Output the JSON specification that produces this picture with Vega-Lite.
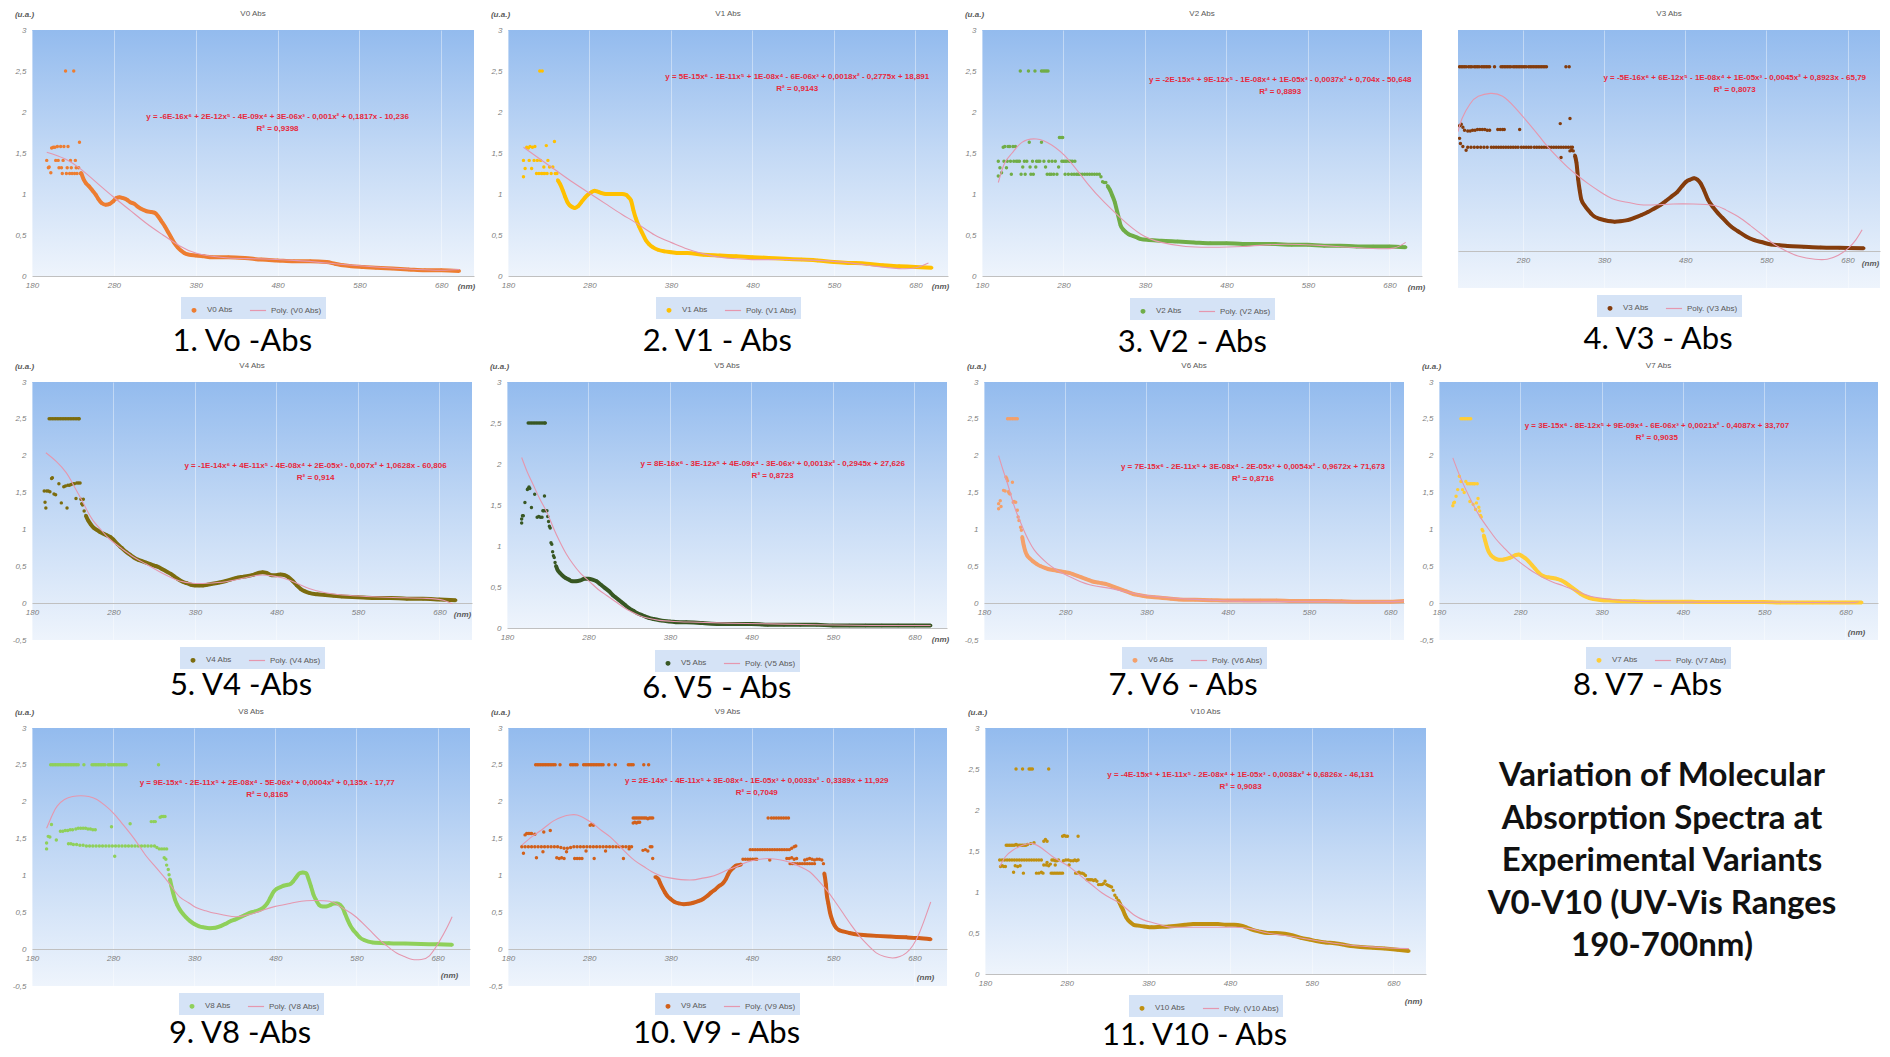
{
  "$schema": "https://vega.github.io/schema/vega-lite/v6.json",
  "background": "white",
  "padding": {"left": 10, "top": 10, "right": 0, "bottom": 0},
  "autosize": {"type": "pad"},
  "config": {
    "view": {"fill": {"gradient": "linear", "x1": 0, "y1": 0, "x2": 0, "y2": 1, "stops": [{"offset": 0, "color": "#93BBEE"}, {"offset": 0.5, "color": "#C3D9F5"}, {"offset": 1, "color": "#EEF4FC"}]}, "stroke": null},
    "font": "Liberation Sans",
    "title": {"fontSize": 8, "fontWeight": "normal", "color": "#595959", "font": "Liberation Sans", "offset": -8},
    "axis": {"labelFontSize": 8, "labelFontStyle": "italic", "labelColor": "#7F7F7F", "ticks": false, "titleFontSize": 8, "titleFontStyle": "italic", "titleFontWeight": "bold", "titleColor": "#595959", "labelFont": "Liberation Sans", "titleFont": "Liberation Sans", "labelOverlap": false},
    "axisX": {"grid": true, "gridColor": "#FFFFFF", "gridOpacity": 0.4, "domainColor": "#C0C0C0", "labelPadding": 5, "labelFlush": false, "titleAlign": "center", "titleBaseline": "middle", "tickCount": 12},
    "axisY": {"grid": false, "domain": false, "labelPadding": 6, "titleAngle": 0, "titleX": -8, "titleY": -16, "titleAlign": "center", "titleBaseline": "middle", "minExtent": 22, "maxExtent": 22, "labelOverlap": false, "labelSeparation": 0, "tickCount": 12},
    "legend": {"orient": "bottom", "direction": "horizontal", "offset": 7, "fillColor": "#D5E3F6", "padding": 4, "labelFontSize": 8, "labelColor": "#595959", "labelFont": "Liberation Sans", "columnPadding": 14, "symbolStrokeWidth": 1.2, "layout": {"bottom": {"anchor": "middle"}}},
    "style": {"eq": {"color": "#E8283C", "fontSize": 8, "fontWeight": "bold", "font": "Liberation Sans", "align": "center", "baseline": "top", "lineHeight": 12}}
  },
  "datasets": {
    "d0": [{"x":198,"y":1.41,"k":"s"},{"x":200,"y":1.32,"k":"s"},{"x":201,"y":1.33,"k":"s"},{"x":203,"y":1.26,"k":"s"},{"x":204,"y":1.56,"k":"s"},{"x":206,"y":1.57,"k":"s"},{"x":208,"y":1.57,"k":"s"},{"x":209,"y":1.41,"k":"s"},{"x":211,"y":1.58,"k":"s"},{"x":212,"y":1.41,"k":"s"},{"x":213,"y":1.32,"k":"s"},{"x":215,"y":1.58,"k":"s"},{"x":216,"y":1.32,"k":"s"},{"x":217,"y":1.25,"k":"s"},{"x":218,"y":1.41,"k":"s"},{"x":219,"y":1.58,"k":"s"},{"x":221,"y":2.5,"k":"s"},{"x":222,"y":1.25,"k":"s"},{"x":223,"y":1.32,"k":"s"},{"x":224,"y":1.58,"k":"s"},{"x":226,"y":1.25,"k":"s"},{"x":227,"y":1.41,"k":"s"},{"x":228,"y":1.32,"k":"s"},{"x":229,"y":1.25,"k":"s"},{"x":231,"y":2.5,"k":"s"},{"x":232,"y":1.25,"k":"s"},{"x":233,"y":1.41,"k":"s"},{"x":234,"y":1.32,"k":"s"},{"x":235,"y":1.25,"k":"s"},{"x":237,"y":1.32,"k":"s"},{"x":238,"y":1.63,"k":"s"},{"x":239,"y":1.25,"k":"s"},
      {"x":240,"y":1.26,"k":"a"},{"x":243,"y":1.18,"k":"a"},{"x":246,"y":1.13,"k":"a"},{"x":250,"y":1.09,"k":"a"},{"x":254,"y":1.04,"k":"a"},{"x":258,"y":0.99,"k":"a"},{"x":261,"y":0.94,"k":"a"},{"x":265,"y":0.89,"k":"a"},{"x":270,"y":0.87,"k":"a"},{"x":275,"y":0.88,"k":"a"},{"x":279,"y":0.91,"k":"a"},{"x":283,"y":0.95,"k":"a"},{"x":287,"y":0.96,"k":"a"},{"x":291,"y":0.95,"k":"a"},{"x":296,"y":0.93,"k":"a"},{"x":300,"y":0.9,"k":"a"},{"x":305,"y":0.88,"k":"a"},{"x":310,"y":0.84,"k":"a"},{"x":315,"y":0.81,"k":"a"},{"x":320,"y":0.79,"k":"a"},{"x":326,"y":0.78,"k":"a"},{"x":330,"y":0.77,"k":"a"},{"x":334,"y":0.73,"k":"a"},{"x":338,"y":0.67,"k":"a"},{"x":342,"y":0.61,"k":"a"},{"x":346,"y":0.54,"k":"a"},{"x":350,"y":0.47,"k":"a"},{"x":354,"y":0.4,"k":"a"},{"x":358,"y":0.35,"k":"a"},{"x":362,"y":0.31,"k":"a"},{"x":366,"y":0.28,"k":"a"},{"x":372,"y":0.26,"k":"a"},{"x":380,"y":0.25,"k":"a"},{"x":390,"y":0.24,"k":"a"},{"x":400,"y":0.23,"k":"a"},{"x":420,"y":0.23,"k":"a"},{"x":440,"y":0.22,"k":"a"},{"x":460,"y":0.2,"k":"a"},{"x":480,"y":0.19,"k":"a"},{"x":500,"y":0.18,"k":"a"},{"x":520,"y":0.18,"k":"a"},{"x":540,"y":0.17,"k":"a"},{"x":550,"y":0.15,"k":"a"},{"x":560,"y":0.13,"k":"a"},{"x":570,"y":0.12,"k":"a"},{"x":585,"y":0.11,"k":"a"},{"x":600,"y":0.1,"k":"a"},{"x":620,"y":0.09,"k":"a"},{"x":640,"y":0.08,"k":"a"},{"x":660,"y":0.07,"k":"a"},{"x":680,"y":0.07,"k":"a"},{"x":702,"y":0.06,"k":"a"}],
    "f0": [{"x":198,"y":1.51},{"x":220,"y":1.43},{"x":240,"y":1.3},{"x":260,"y":1.13},{"x":280,"y":0.96},{"x":300,"y":0.8},{"x":320,"y":0.64},{"x":340,"y":0.5},{"x":360,"y":0.37},{"x":380,"y":0.28},{"x":400,"y":0.24},{"x":420,"y":0.22},{"x":450,"y":0.21},{"x":500,"y":0.19},{"x":550,"y":0.15},{"x":600,"y":0.11},{"x":650,"y":0.08},{"x":680,"y":0.07},{"x":702,"y":0.08}],
    "d1": [{"x":199,"y":1.41,"k":"s"},{"x":199,"y":1.21,"k":"s"},{"x":201,"y":1.31,"k":"s"},{"x":203,"y":1.57,"k":"s"},{"x":205,"y":1.56,"k":"s"},{"x":206,"y":1.41,"k":"s"},{"x":207,"y":1.58,"k":"s"},{"x":209,"y":1.31,"k":"s"},{"x":210,"y":1.57,"k":"s"},{"x":212,"y":1.41,"k":"s"},{"x":213,"y":1.58,"k":"s"},{"x":215,"y":1.25,"k":"s"},{"x":216,"y":1.41,"k":"s"},{"x":218,"y":1.25,"k":"s"},{"x":219,"y":2.5,"k":"s"},{"x":220,"y":1.41,"k":"s"},{"x":221,"y":1.25,"k":"s"},{"x":222,"y":2.5,"k":"s"},{"x":223,"y":1.25,"k":"s"},{"x":224,"y":1.33,"k":"s"},{"x":225,"y":1.25,"k":"s"},{"x":227,"y":1.59,"k":"s"},{"x":228,"y":1.25,"k":"s"},{"x":229,"y":1.41,"k":"s"},{"x":231,"y":1.33,"k":"s"},{"x":233,"y":1.25,"k":"s"},{"x":235,"y":1.33,"k":"s"},{"x":237,"y":1.64,"k":"s"},{"x":238,"y":1.25,"k":"s"},{"x":240,"y":1.25,"k":"s"},
      {"x":241,"y":1.17,"k":"a"},{"x":244,"y":1.12,"k":"a"},{"x":247,"y":1.05,"k":"a"},{"x":250,"y":0.97,"k":"a"},{"x":253,"y":0.9,"k":"a"},{"x":256,"y":0.86,"k":"a"},{"x":259,"y":0.84,"k":"a"},{"x":262,"y":0.83,"k":"a"},{"x":266,"y":0.85,"k":"a"},{"x":270,"y":0.9,"k":"a"},{"x":274,"y":0.95,"k":"a"},{"x":278,"y":0.99,"k":"a"},{"x":282,"y":1.02,"k":"a"},{"x":286,"y":1.04,"k":"a"},{"x":290,"y":1.03,"k":"a"},{"x":295,"y":1.01,"k":"a"},{"x":300,"y":1.0,"k":"a"},{"x":305,"y":1.0,"k":"a"},{"x":310,"y":1.0,"k":"a"},{"x":315,"y":1.0,"k":"a"},{"x":320,"y":1.0,"k":"a"},{"x":325,"y":0.99,"k":"a"},{"x":328,"y":0.96,"k":"a"},{"x":331,"y":0.92,"k":"a"},{"x":334,"y":0.8,"k":"a"},{"x":337,"y":0.7,"k":"a"},{"x":341,"y":0.6,"k":"a"},{"x":345,"y":0.52,"k":"a"},{"x":349,"y":0.44,"k":"a"},{"x":353,"y":0.39,"k":"a"},{"x":358,"y":0.35,"k":"a"},{"x":364,"y":0.32,"k":"a"},{"x":372,"y":0.3,"k":"a"},{"x":380,"y":0.29,"k":"a"},{"x":390,"y":0.28,"k":"a"},{"x":400,"y":0.28,"k":"a"},{"x":420,"y":0.26,"k":"a"},{"x":440,"y":0.25,"k":"a"},{"x":460,"y":0.24,"k":"a"},{"x":480,"y":0.23,"k":"a"},{"x":500,"y":0.22,"k":"a"},{"x":520,"y":0.21,"k":"a"},{"x":540,"y":0.2,"k":"a"},{"x":560,"y":0.19,"k":"a"},{"x":580,"y":0.17,"k":"a"},{"x":600,"y":0.16,"k":"a"},{"x":620,"y":0.15,"k":"a"},{"x":640,"y":0.13,"k":"a"},{"x":660,"y":0.12,"k":"a"},{"x":680,"y":0.11,"k":"a"},{"x":700,"y":0.1,"k":"a"}],
    "f1": [{"x":199,"y":1.57},{"x":220,"y":1.42},{"x":240,"y":1.28},{"x":260,"y":1.14},{"x":280,"y":1.01},{"x":300,"y":0.88},{"x":320,"y":0.75},{"x":340,"y":0.63},{"x":360,"y":0.5},{"x":380,"y":0.41},{"x":400,"y":0.33},{"x":420,"y":0.27},{"x":440,"y":0.23},{"x":460,"y":0.21},{"x":480,"y":0.2},{"x":500,"y":0.2},{"x":530,"y":0.2},{"x":560,"y":0.19},{"x":600,"y":0.16},{"x":630,"y":0.12},{"x":660,"y":0.09},{"x":680,"y":0.1},{"x":696,"y":0.16}],
    "d2": [{"x":200,"y":1.4,"k":"s"},{"x":200,"y":1.22,"k":"s"},{"x":202,"y":1.32,"k":"s"},{"x":204,"y":1.26,"k":"s"},{"x":206,"y":1.57,"k":"s"},{"x":207,"y":1.4,"k":"s"},{"x":208,"y":1.58,"k":"s"},{"x":210,"y":1.32,"k":"s"},{"x":211,"y":1.4,"k":"s"},{"x":212,"y":1.58,"k":"s"},{"x":214,"y":1.58,"k":"s"},{"x":215,"y":1.4,"k":"s"},{"x":216,"y":1.24,"k":"s"},{"x":218,"y":1.58,"k":"s"},{"x":219,"y":1.4,"k":"s"},{"x":221,"y":1.58,"k":"s"},{"x":222,"y":1.4,"k":"s"},{"x":224,"y":1.4,"k":"s"},{"x":226,"y":1.4,"k":"s"},{"x":227,"y":2.5,"k":"s"},{"x":228,"y":1.24,"k":"s"},{"x":230,"y":1.33,"k":"s"},{"x":232,"y":1.4,"k":"s"},{"x":233,"y":1.24,"k":"s"},{"x":235,"y":1.4,"k":"s"},{"x":237,"y":2.5,"k":"s"},{"x":238,"y":1.63,"k":"s"},{"x":239,"y":1.33,"k":"s"},{"x":240,"y":1.24,"k":"s"},{"x":242,"y":1.4,"k":"s"},{"x":243,"y":1.24,"k":"s"},{"x":245,"y":2.5,"k":"s"},{"x":246,"y":1.33,"k":"s"},{"x":247,"y":1.4,"k":"s"},{"x":249,"y":1.4,"k":"s"},{"x":251,"y":1.4,"k":"s"},{"x":253,"y":2.5,"k":"s"},{"x":253,"y":1.63,"k":"s"},{"x":255,"y":2.5,"k":"s"},{"x":256,"y":1.4,"k":"s"},{"x":257,"y":2.5,"k":"s"},{"x":258,"y":1.33,"k":"s"},{"x":259,"y":2.5,"k":"s"},{"x":260,"y":1.24,"k":"s"},{"x":261,"y":2.5,"k":"s"},{"x":262,"y":1.4,"k":"s"},{"x":263,"y":1.24,"k":"s"},{"x":265,"y":1.24,"k":"s"},{"x":266,"y":1.4,"k":"s"},{"x":268,"y":1.24,"k":"s"},{"x":270,"y":1.4,"k":"s"},{"x":272,"y":1.24,"k":"s"},{"x":274,"y":1.33,"k":"s"},{"x":275,"y":1.69,"k":"s"},{"x":277,"y":1.69,"k":"s"},{"x":278,"y":1.4,"k":"s"},{"x":279,"y":1.69,"k":"s"},{"x":280,"y":1.4,"k":"s"},{"x":282,"y":1.24,"k":"s"},{"x":282,"y":1.4,"k":"s"},{"x":284,"y":1.4,"k":"s"},{"x":286,"y":1.24,"k":"s"},{"x":287,"y":1.4,"k":"s"},{"x":289,"y":1.4,"k":"s"},{"x":290,"y":1.24,"k":"s"},{"x":291,"y":1.4,"k":"s"},{"x":293,"y":1.24,"k":"s"},{"x":294,"y":1.4,"k":"s"},{"x":296,"y":1.24,"k":"s"},{"x":298,"y":1.24,"k":"s"},{"x":300,"y":1.24,"k":"s"},{"x":303,"y":1.24,"k":"s"},{"x":306,"y":1.24,"k":"s"},{"x":309,"y":1.24,"k":"s"},{"x":312,"y":1.24,"k":"s"},{"x":315,"y":1.24,"k":"s"},{"x":318,"y":1.24,"k":"s"},{"x":321,"y":1.24,"k":"s"},{"x":324,"y":1.24,"k":"s"},{"x":326,"y":1.21,"k":"s"},{"x":328,"y":1.15,"k":"s"},{"x":330,"y":1.14,"k":"s"},{"x":332,"y":1.14,"k":"s"},
      {"x":334,"y":1.1,"k":"a"},{"x":337,"y":1.05,"k":"a"},{"x":340,"y":0.98,"k":"a"},{"x":343,"y":0.9,"k":"a"},{"x":346,"y":0.78,"k":"a"},{"x":348,"y":0.7,"k":"a"},{"x":350,"y":0.62,"k":"a"},{"x":353,"y":0.57,"k":"a"},{"x":356,"y":0.54,"k":"a"},{"x":360,"y":0.51,"k":"a"},{"x":365,"y":0.49,"k":"a"},{"x":370,"y":0.47,"k":"a"},{"x":375,"y":0.45,"k":"a"},{"x":385,"y":0.44,"k":"a"},{"x":400,"y":0.43,"k":"a"},{"x":420,"y":0.42,"k":"a"},{"x":440,"y":0.41,"k":"a"},{"x":460,"y":0.4,"k":"a"},{"x":480,"y":0.4,"k":"a"},{"x":500,"y":0.39,"k":"a"},{"x":520,"y":0.39,"k":"a"},{"x":540,"y":0.39,"k":"a"},{"x":560,"y":0.38,"k":"a"},{"x":580,"y":0.38,"k":"a"},{"x":600,"y":0.37,"k":"a"},{"x":620,"y":0.37,"k":"a"},{"x":640,"y":0.36,"k":"a"},{"x":660,"y":0.36,"k":"a"},{"x":680,"y":0.36,"k":"a"},{"x":700,"y":0.35,"k":"a"}],
    "f2": [{"x":200,"y":1.14},{"x":208,"y":1.38},{"x":217,"y":1.5},{"x":229,"y":1.63},{"x":247,"y":1.67},{"x":265,"y":1.6},{"x":286,"y":1.42},{"x":310,"y":1.12},{"x":330,"y":0.9},{"x":351,"y":0.7},{"x":375,"y":0.51},{"x":400,"y":0.41},{"x":430,"y":0.36},{"x":460,"y":0.35},{"x":500,"y":0.36},{"x":540,"y":0.385},{"x":570,"y":0.385},{"x":600,"y":0.37},{"x":630,"y":0.35},{"x":660,"y":0.335},{"x":685,"y":0.34},{"x":700,"y":0.41}],
    "d3": [{"x":202,"y":2.5,"k":"s"},{"x":204,"y":2.5,"k":"s"},{"x":206,"y":2.5,"k":"s"},{"x":208,"y":2.5,"k":"s"},{"x":210,"y":2.5,"k":"s"},{"x":213,"y":2.5,"k":"s"},{"x":215,"y":2.5,"k":"s"},{"x":217,"y":2.5,"k":"s"},{"x":220,"y":2.5,"k":"s"},{"x":222,"y":2.5,"k":"s"},{"x":224,"y":2.5,"k":"s"},{"x":226,"y":2.5,"k":"s"},{"x":229,"y":2.5,"k":"s"},{"x":231,"y":2.5,"k":"s"},{"x":233,"y":2.5,"k":"s"},{"x":235,"y":2.5,"k":"s"},{"x":237,"y":2.5,"k":"s"},{"x":239,"y":2.5,"k":"s"},{"x":245,"y":2.5,"k":"s"},{"x":253,"y":2.5,"k":"s"},{"x":255,"y":2.5,"k":"s"},{"x":257,"y":2.5,"k":"s"},{"x":259,"y":2.5,"k":"s"},{"x":261,"y":2.5,"k":"s"},{"x":263,"y":2.5,"k":"s"},{"x":265,"y":2.5,"k":"s"},{"x":268,"y":2.5,"k":"s"},{"x":270,"y":2.5,"k":"s"},{"x":272,"y":2.5,"k":"s"},{"x":274,"y":2.5,"k":"s"},{"x":276,"y":2.5,"k":"s"},{"x":278,"y":2.5,"k":"s"},{"x":280,"y":2.5,"k":"s"},{"x":282,"y":2.5,"k":"s"},{"x":284,"y":2.5,"k":"s"},{"x":287,"y":2.5,"k":"s"},{"x":289,"y":2.5,"k":"s"},{"x":291,"y":2.5,"k":"s"},{"x":293,"y":2.5,"k":"s"},{"x":295,"y":2.5,"k":"s"},{"x":297,"y":2.5,"k":"s"},{"x":299,"y":2.5,"k":"s"},{"x":301,"y":2.5,"k":"s"},{"x":303,"y":2.5,"k":"s"},{"x":305,"y":2.5,"k":"s"},{"x":307,"y":2.5,"k":"s"},{"x":309,"y":2.5,"k":"s"},{"x":333,"y":2.5,"k":"s"},{"x":337,"y":2.5,"k":"s"},
      {"x":202,"y":1.7,"k":"s"},{"x":204,"y":1.72,"k":"s"},{"x":206,"y":1.68,"k":"s"},{"x":208,"y":1.64,"k":"s"},{"x":212,"y":1.63,"k":"s"},{"x":215,"y":1.63,"k":"s"},{"x":218,"y":1.64,"k":"s"},{"x":221,"y":1.64,"k":"s"},{"x":224,"y":1.65,"k":"s"},{"x":227,"y":1.65,"k":"s"},{"x":230,"y":1.65,"k":"s"},{"x":233,"y":1.65,"k":"s"},{"x":236,"y":1.64,"k":"s"},{"x":239,"y":1.64,"k":"s"},{"x":249,"y":1.65,"k":"s"},{"x":252,"y":1.65,"k":"s"},{"x":255,"y":1.65,"k":"s"},{"x":257,"y":1.65,"k":"s"},{"x":276,"y":1.65,"k":"s"},{"x":326,"y":1.73,"k":"s"},{"x":338,"y":1.8,"k":"s"},
      {"x":212,"y":1.41,"k":"s"},{"x":216,"y":1.41,"k":"s"},{"x":220,"y":1.41,"k":"s"},{"x":224,"y":1.41,"k":"s"},{"x":228,"y":1.41,"k":"s"},{"x":232,"y":1.41,"k":"s"},{"x":236,"y":1.41,"k":"s"},{"x":241,"y":1.41,"k":"s"},{"x":244,"y":1.41,"k":"s"},{"x":247,"y":1.41,"k":"s"},{"x":250,"y":1.41,"k":"s"},{"x":253,"y":1.41,"k":"s"},{"x":256,"y":1.41,"k":"s"},{"x":259,"y":1.41,"k":"s"},{"x":262,"y":1.41,"k":"s"},{"x":265,"y":1.41,"k":"s"},{"x":268,"y":1.41,"k":"s"},{"x":271,"y":1.41,"k":"s"},{"x":274,"y":1.41,"k":"s"},{"x":278,"y":1.41,"k":"s"},{"x":281,"y":1.41,"k":"s"},{"x":284,"y":1.41,"k":"s"},{"x":287,"y":1.41,"k":"s"},{"x":290,"y":1.41,"k":"s"},{"x":294,"y":1.41,"k":"s"},{"x":297,"y":1.41,"k":"s"},{"x":300,"y":1.41,"k":"s"},{"x":303,"y":1.41,"k":"s"},{"x":306,"y":1.41,"k":"s"},{"x":309,"y":1.41,"k":"s"},{"x":312,"y":1.41,"k":"s"},{"x":315,"y":1.41,"k":"s"},{"x":318,"y":1.41,"k":"s"},{"x":321,"y":1.41,"k":"s"},{"x":324,"y":1.41,"k":"s"},{"x":327,"y":1.41,"k":"s"},{"x":330,"y":1.41,"k":"s"},{"x":333,"y":1.41,"k":"s"},{"x":336,"y":1.41,"k":"s"},{"x":339,"y":1.41,"k":"s"},{"x":341,"y":1.41,"k":"s"},
      {"x":202,"y":1.53,"k":"s"},{"x":203,"y":1.46,"k":"s"},{"x":206,"y":1.42,"k":"s"},{"x":210,"y":1.37,"k":"s"},{"x":327,"y":1.27,"k":"s"},{"x":338,"y":1.36,"k":"s"},{"x":340,"y":1.37,"k":"s"},{"x":342,"y":1.36,"k":"s"},
      {"x":344,"y":1.3,"k":"a"},{"x":346,"y":1.2,"k":"a"},{"x":348,"y":0.98,"k":"a"},{"x":350,"y":0.82,"k":"a"},{"x":352,"y":0.7,"k":"a"},{"x":356,"y":0.62,"k":"a"},{"x":360,"y":0.56,"k":"a"},{"x":364,"y":0.51,"k":"a"},{"x":368,"y":0.47,"k":"a"},{"x":374,"y":0.44,"k":"a"},{"x":381,"y":0.42,"k":"a"},{"x":388,"y":0.405,"k":"a"},{"x":393,"y":0.4,"k":"a"},{"x":400,"y":0.405,"k":"a"},{"x":409,"y":0.42,"k":"a"},{"x":417,"y":0.45,"k":"a"},{"x":426,"y":0.49,"k":"a"},{"x":434,"y":0.53,"k":"a"},{"x":442,"y":0.58,"k":"a"},{"x":450,"y":0.63,"k":"a"},{"x":456,"y":0.68,"k":"a"},{"x":463,"y":0.74,"k":"a"},{"x":470,"y":0.8,"k":"a"},{"x":476,"y":0.88,"k":"a"},{"x":481,"y":0.94,"k":"a"},{"x":486,"y":0.97,"k":"a"},{"x":491,"y":0.99,"k":"a"},{"x":495,"y":0.97,"k":"a"},{"x":499,"y":0.92,"k":"a"},{"x":503,"y":0.83,"k":"a"},{"x":508,"y":0.7,"k":"a"},{"x":514,"y":0.6,"k":"a"},{"x":520,"y":0.52,"k":"a"},{"x":526,"y":0.45,"k":"a"},{"x":532,"y":0.38,"k":"a"},{"x":538,"y":0.32,"k":"a"},{"x":545,"y":0.27,"k":"a"},{"x":555,"y":0.2,"k":"a"},{"x":565,"y":0.15,"k":"a"},{"x":575,"y":0.12,"k":"a"},{"x":586,"y":0.09,"k":"a"},{"x":596,"y":0.08,"k":"a"},{"x":606,"y":0.07,"k":"a"},{"x":626,"y":0.06,"k":"a"},{"x":647,"y":0.05,"k":"a"},{"x":670,"y":0.045,"k":"a"},{"x":700,"y":0.04,"k":"a"}],
    "f3": [{"x":200,"y":1.62},{"x":205,"y":1.8},{"x":215,"y":2.0},{"x":225,"y":2.1},{"x":240,"y":2.14},{"x":255,"y":2.1},{"x":270,"y":1.95},{"x":285,"y":1.76},{"x":300,"y":1.56},{"x":311,"y":1.41},{"x":323,"y":1.27},{"x":335,"y":1.14},{"x":348,"y":1.02},{"x":360,"y":0.92},{"x":376,"y":0.8},{"x":393,"y":0.7},{"x":410,"y":0.66},{"x":425,"y":0.63},{"x":445,"y":0.63},{"x":465,"y":0.64},{"x":490,"y":0.64},{"x":516,"y":0.62},{"x":530,"y":0.56},{"x":545,"y":0.47},{"x":560,"y":0.35},{"x":575,"y":0.22},{"x":590,"y":0.09},{"x":605,"y":0.0},{"x":620,"y":-0.07},{"x":640,"y":-0.11},{"x":655,"y":-0.11},{"x":668,"y":-0.06},{"x":680,"y":0.03},{"x":690,"y":0.15},{"x":698,"y":0.29}],
    "d4": [{"x":201,"y":2.5,"k":"s"},{"x":203,"y":2.5,"k":"s"},{"x":205,"y":2.5,"k":"s"},{"x":207,"y":2.5,"k":"s"},{"x":209,"y":2.5,"k":"s"},{"x":211,"y":2.5,"k":"s"},{"x":213,"y":2.5,"k":"s"},{"x":215,"y":2.5,"k":"s"},{"x":217,"y":2.5,"k":"s"},{"x":219,"y":2.5,"k":"s"},{"x":221,"y":2.5,"k":"s"},{"x":223,"y":2.5,"k":"s"},{"x":225,"y":2.5,"k":"s"},{"x":227,"y":2.5,"k":"s"},{"x":229,"y":2.5,"k":"s"},{"x":231,"y":2.5,"k":"s"},{"x":233,"y":2.5,"k":"s"},{"x":235,"y":2.5,"k":"s"},{"x":237,"y":2.5,"k":"s"},{"x":238,"y":2.5,"k":"s"},
      {"x":195,"y":1.52,"k":"s"},{"x":196,"y":1.37,"k":"s"},{"x":197,"y":1.29,"k":"s"},{"x":198,"y":1.52,"k":"s"},{"x":200,"y":1.52,"k":"s"},{"x":202,"y":1.51,"k":"s"},{"x":204,"y":1.69,"k":"s"},{"x":205,"y":1.7,"k":"s"},{"x":207,"y":1.48,"k":"s"},{"x":209,"y":1.47,"k":"s"},{"x":213,"y":1.62,"k":"s"},{"x":216,"y":1.36,"k":"s"},{"x":219,"y":1.58,"k":"s"},{"x":221,"y":1.59,"k":"s"},{"x":223,"y":1.29,"k":"s"},{"x":224,"y":1.6,"k":"s"},{"x":226,"y":1.6,"k":"s"},{"x":228,"y":1.61,"k":"s"},{"x":230,"y":1.62,"k":"s"},{"x":232,"y":1.62,"k":"s"},{"x":234,"y":1.42,"k":"s"},{"x":235,"y":1.63,"k":"s"},{"x":237,"y":1.63,"k":"s"},{"x":239,"y":1.63,"k":"s"},{"x":240,"y":1.41,"k":"s"},{"x":241,"y":1.35,"k":"s"},{"x":242,"y":1.33,"k":"s"},{"x":243,"y":1.41,"k":"s"},{"x":244,"y":1.25,"k":"s"},
      {"x":246,"y":1.19,"k":"a"},{"x":249,"y":1.12,"k":"a"},{"x":252,"y":1.07,"k":"a"},{"x":256,"y":1.02,"k":"a"},{"x":260,"y":0.99,"k":"a"},{"x":264,"y":0.96,"k":"a"},{"x":268,"y":0.94,"k":"a"},{"x":272,"y":0.92,"k":"a"},{"x":276,"y":0.9,"k":"a"},{"x":280,"y":0.86,"k":"a"},{"x":285,"y":0.8,"k":"a"},{"x":290,"y":0.75,"k":"a"},{"x":295,"y":0.7,"k":"a"},{"x":300,"y":0.66,"k":"a"},{"x":305,"y":0.62,"k":"a"},{"x":310,"y":0.59,"k":"a"},{"x":315,"y":0.57,"k":"a"},{"x":320,"y":0.55,"k":"a"},{"x":325,"y":0.53,"k":"a"},{"x":330,"y":0.51,"k":"a"},{"x":335,"y":0.49,"k":"a"},{"x":340,"y":0.46,"k":"a"},{"x":345,"y":0.43,"k":"a"},{"x":350,"y":0.4,"k":"a"},{"x":355,"y":0.36,"k":"a"},{"x":360,"y":0.32,"k":"a"},{"x":365,"y":0.29,"k":"a"},{"x":370,"y":0.27,"k":"a"},{"x":375,"y":0.25,"k":"a"},{"x":380,"y":0.24,"k":"a"},{"x":385,"y":0.24,"k":"a"},{"x":390,"y":0.24,"k":"a"},{"x":395,"y":0.25,"k":"a"},{"x":400,"y":0.26,"k":"a"},{"x":410,"y":0.28,"k":"a"},{"x":418,"y":0.3,"k":"a"},{"x":430,"y":0.34,"k":"a"},{"x":440,"y":0.36,"k":"a"},{"x":450,"y":0.38,"k":"a"},{"x":458,"y":0.41,"k":"a"},{"x":463,"y":0.42,"k":"a"},{"x":468,"y":0.41,"k":"a"},{"x":474,"y":0.38,"k":"a"},{"x":480,"y":0.38,"k":"a"},{"x":485,"y":0.39,"k":"a"},{"x":490,"y":0.38,"k":"a"},{"x":495,"y":0.35,"k":"a"},{"x":500,"y":0.3,"k":"a"},{"x":505,"y":0.24,"k":"a"},{"x":510,"y":0.19,"k":"a"},{"x":515,"y":0.16,"k":"a"},{"x":520,"y":0.14,"k":"a"},{"x":530,"y":0.12,"k":"a"},{"x":540,"y":0.11,"k":"a"},{"x":550,"y":0.1,"k":"a"},{"x":560,"y":0.09,"k":"a"},{"x":580,"y":0.08,"k":"a"},{"x":600,"y":0.07,"k":"a"},{"x":620,"y":0.07,"k":"a"},{"x":640,"y":0.06,"k":"a"},{"x":660,"y":0.06,"k":"a"},{"x":680,"y":0.05,"k":"a"},{"x":700,"y":0.04,"k":"a"}],
    "f4": [{"x":197,"y":2.04},{"x":210,"y":1.92},{"x":222,"y":1.77},{"x":230,"y":1.62},{"x":238,"y":1.46},{"x":246,"y":1.29},{"x":255,"y":1.12},{"x":265,"y":0.99},{"x":275,"y":0.87},{"x":290,"y":0.74},{"x":304,"y":0.63},{"x":320,"y":0.53},{"x":336,"y":0.43},{"x":350,"y":0.35},{"x":361,"y":0.3},{"x":377,"y":0.27},{"x":395,"y":0.27},{"x":418,"y":0.29},{"x":440,"y":0.34},{"x":459,"y":0.38},{"x":475,"y":0.37},{"x":488,"y":0.34},{"x":505,"y":0.27},{"x":520,"y":0.2},{"x":540,"y":0.14},{"x":561,"y":0.11},{"x":590,"y":0.09},{"x":623,"y":0.076},{"x":664,"y":0.065},{"x":685,"y":0.04},{"x":696,"y":-0.01}],
    "d5": [{"x":206,"y":2.5,"k":"s"},{"x":208,"y":2.5,"k":"s"},{"x":210,"y":2.5,"k":"s"},{"x":212,"y":2.5,"k":"s"},{"x":214,"y":2.5,"k":"s"},{"x":216,"y":2.5,"k":"s"},{"x":218,"y":2.5,"k":"s"},{"x":220,"y":2.5,"k":"s"},{"x":222,"y":2.5,"k":"s"},{"x":224,"y":2.5,"k":"s"},{"x":226,"y":2.5,"k":"s"},{"x":227,"y":2.5,"k":"s"},
      {"x":198,"y":1.33,"k":"s"},{"x":198,"y":1.28,"k":"s"},{"x":199,"y":1.37,"k":"s"},{"x":200,"y":1.37,"k":"s"},{"x":202,"y":1.53,"k":"s"},{"x":205,"y":1.69,"k":"s"},{"x":206,"y":1.7,"k":"s"},{"x":207,"y":1.72,"k":"s"},{"x":208,"y":1.7,"k":"s"},{"x":210,"y":1.47,"k":"s"},{"x":214,"y":1.63,"k":"s"},{"x":217,"y":1.35,"k":"s"},{"x":219,"y":1.36,"k":"s"},{"x":221,"y":1.35,"k":"s"},{"x":223,"y":1.35,"k":"s"},{"x":224,"y":1.43,"k":"s"},{"x":225,"y":1.43,"k":"s"},{"x":226,"y":1.61,"k":"s"},{"x":227,"y":1.43,"k":"s"},{"x":229,"y":1.43,"k":"s"},{"x":230,"y":1.36,"k":"s"},{"x":231,"y":1.3,"k":"s"},{"x":232,"y":1.24,"k":"s"},{"x":233,"y":1.22,"k":"s"},{"x":234,"y":1.04,"k":"s"},{"x":235,"y":1.02,"k":"s"},{"x":236,"y":0.93,"k":"s"},{"x":237,"y":0.88,"k":"s"},{"x":238,"y":0.86,"k":"s"},{"x":239,"y":0.8,"k":"s"},
      {"x":240,"y":0.76,"k":"a"},{"x":242,"y":0.71,"k":"a"},{"x":245,"y":0.67,"k":"a"},{"x":248,"y":0.64,"k":"a"},{"x":252,"y":0.61,"k":"a"},{"x":256,"y":0.59,"k":"a"},{"x":260,"y":0.57,"k":"a"},{"x":265,"y":0.57,"k":"a"},{"x":270,"y":0.58,"k":"a"},{"x":275,"y":0.6,"k":"a"},{"x":280,"y":0.6,"k":"a"},{"x":285,"y":0.59,"k":"a"},{"x":290,"y":0.57,"k":"a"},{"x":295,"y":0.53,"k":"a"},{"x":300,"y":0.49,"k":"a"},{"x":305,"y":0.45,"k":"a"},{"x":310,"y":0.4,"k":"a"},{"x":315,"y":0.36,"k":"a"},{"x":320,"y":0.32,"k":"a"},{"x":325,"y":0.28,"k":"a"},{"x":330,"y":0.24,"k":"a"},{"x":335,"y":0.21,"k":"a"},{"x":340,"y":0.18,"k":"a"},{"x":345,"y":0.16,"k":"a"},{"x":350,"y":0.14,"k":"a"},{"x":355,"y":0.12,"k":"a"},{"x":360,"y":0.11,"k":"a"},{"x":370,"y":0.09,"k":"a"},{"x":380,"y":0.08,"k":"a"},{"x":390,"y":0.07,"k":"a"},{"x":400,"y":0.07,"k":"a"},{"x":420,"y":0.06,"k":"a"},{"x":440,"y":0.05,"k":"a"},{"x":460,"y":0.05,"k":"a"},{"x":480,"y":0.05,"k":"a"},{"x":500,"y":0.04,"k":"a"},{"x":520,"y":0.04,"k":"a"},{"x":540,"y":0.04,"k":"a"},{"x":560,"y":0.04,"k":"a"},{"x":580,"y":0.03,"k":"a"},{"x":600,"y":0.03,"k":"a"},{"x":620,"y":0.03,"k":"a"},{"x":640,"y":0.03,"k":"a"},{"x":660,"y":0.03,"k":"a"},{"x":680,"y":0.03,"k":"a"},{"x":700,"y":0.03,"k":"a"}],
    "f5": [{"x":198,"y":2.08},{"x":205,"y":1.9},{"x":212,"y":1.75},{"x":220,"y":1.58},{"x":229,"y":1.41},{"x":237,"y":1.22},{"x":245,"y":1.05},{"x":253,"y":0.9},{"x":261,"y":0.78},{"x":270,"y":0.67},{"x":282,"y":0.56},{"x":292,"y":0.47},{"x":302,"y":0.4},{"x":312,"y":0.33},{"x":322,"y":0.26},{"x":332,"y":0.2},{"x":343,"y":0.15},{"x":355,"y":0.115},{"x":367,"y":0.093},{"x":385,"y":0.08},{"x":404,"y":0.073},{"x":450,"y":0.06},{"x":505,"y":0.05},{"x":560,"y":0.04},{"x":627,"y":0.03},{"x":700,"y":0.03}],
    "d6": [{"x":209,"y":2.5,"k":"s"},{"x":211,"y":2.5,"k":"s"},{"x":213,"y":2.5,"k":"s"},{"x":215,"y":2.5,"k":"s"},{"x":217,"y":2.5,"k":"s"},{"x":219,"y":2.5,"k":"s"},{"x":221,"y":2.5,"k":"s"},
      {"x":198,"y":1.35,"k":"s"},{"x":198,"y":1.28,"k":"s"},{"x":200,"y":1.39,"k":"s"},{"x":201,"y":1.31,"k":"s"},{"x":204,"y":1.53,"k":"s"},{"x":206,"y":1.52,"k":"s"},{"x":207,"y":1.71,"k":"s"},{"x":208,"y":1.69,"k":"s"},{"x":209,"y":1.66,"k":"s"},{"x":210,"y":1.51,"k":"s"},{"x":211,"y":1.49,"k":"s"},{"x":212,"y":1.48,"k":"s"},{"x":215,"y":1.64,"k":"s"},{"x":216,"y":1.37,"k":"s"},{"x":217,"y":1.38,"k":"s"},{"x":219,"y":1.37,"k":"s"},{"x":221,"y":1.26,"k":"s"},{"x":222,"y":1.17,"k":"s"},{"x":223,"y":1.12,"k":"s"},{"x":225,"y":1.03,"k":"s"},{"x":226,"y":0.99,"k":"s"},
      {"x":227,"y":0.9,"k":"a"},{"x":229,"y":0.78,"k":"a"},{"x":231,"y":0.7,"k":"a"},{"x":233,"y":0.65,"k":"a"},{"x":236,"y":0.61,"k":"a"},{"x":240,"y":0.57,"k":"a"},{"x":245,"y":0.53,"k":"a"},{"x":250,"y":0.5,"k":"a"},{"x":255,"y":0.48,"k":"a"},{"x":260,"y":0.46,"k":"a"},{"x":265,"y":0.45,"k":"a"},{"x":270,"y":0.44,"k":"a"},{"x":275,"y":0.43,"k":"a"},{"x":280,"y":0.42,"k":"a"},{"x":285,"y":0.41,"k":"a"},{"x":290,"y":0.39,"k":"a"},{"x":295,"y":0.37,"k":"a"},{"x":300,"y":0.35,"k":"a"},{"x":305,"y":0.33,"k":"a"},{"x":310,"y":0.31,"k":"a"},{"x":315,"y":0.29,"k":"a"},{"x":320,"y":0.28,"k":"a"},{"x":325,"y":0.27,"k":"a"},{"x":330,"y":0.26,"k":"a"},{"x":335,"y":0.24,"k":"a"},{"x":340,"y":0.22,"k":"a"},{"x":345,"y":0.2,"k":"a"},{"x":350,"y":0.18,"k":"a"},{"x":355,"y":0.16,"k":"a"},{"x":360,"y":0.14,"k":"a"},{"x":365,"y":0.12,"k":"a"},{"x":370,"y":0.11,"k":"a"},{"x":375,"y":0.1,"k":"a"},{"x":380,"y":0.09,"k":"a"},{"x":390,"y":0.08,"k":"a"},{"x":400,"y":0.07,"k":"a"},{"x":410,"y":0.06,"k":"a"},{"x":420,"y":0.05,"k":"a"},{"x":440,"y":0.045,"k":"a"},{"x":460,"y":0.04,"k":"a"},{"x":480,"y":0.035,"k":"a"},{"x":500,"y":0.035,"k":"a"},{"x":520,"y":0.035,"k":"a"},{"x":540,"y":0.035,"k":"a"},{"x":560,"y":0.03,"k":"a"},{"x":580,"y":0.03,"k":"a"},{"x":600,"y":0.03,"k":"a"},{"x":620,"y":0.025,"k":"a"},{"x":640,"y":0.02,"k":"a"},{"x":660,"y":0.02,"k":"a"},{"x":680,"y":0.02,"k":"a"},{"x":698,"y":0.03,"k":"a"}],
    "f6": [{"x":198,"y":2.0},{"x":203,"y":1.82},{"x":209,"y":1.62},{"x":214,"y":1.43},{"x":219,"y":1.26},{"x":224,"y":1.12},{"x":229,"y":0.99},{"x":235,"y":0.85},{"x":242,"y":0.72},{"x":250,"y":0.62},{"x":258,"y":0.54},{"x":268,"y":0.46},{"x":278,"y":0.4},{"x":289,"y":0.34},{"x":299,"y":0.29},{"x":310,"y":0.25},{"x":319,"y":0.23},{"x":330,"y":0.21},{"x":340,"y":0.19},{"x":350,"y":0.165},{"x":360,"y":0.14},{"x":375,"y":0.11},{"x":393,"y":0.09},{"x":412,"y":0.07},{"x":434,"y":0.054},{"x":470,"y":0.035},{"x":516,"y":0.02},{"x":598,"y":0.02},{"x":680,"y":0.02},{"x":698,"y":0.04}],
    "d7": [{"x":207,"y":2.5,"k":"s"},{"x":209,"y":2.5,"k":"s"},{"x":211,"y":2.5,"k":"s"},{"x":213,"y":2.5,"k":"s"},{"x":215,"y":2.5,"k":"s"},{"x":217,"y":2.5,"k":"s"},{"x":219,"y":2.5,"k":"s"},
      {"x":197,"y":1.32,"k":"s"},{"x":198,"y":1.36,"k":"s"},{"x":199,"y":1.37,"k":"s"},{"x":201,"y":1.45,"k":"s"},{"x":203,"y":1.54,"k":"s"},{"x":205,"y":1.72,"k":"s"},{"x":207,"y":1.65,"k":"s"},{"x":209,"y":1.54,"k":"s"},{"x":211,"y":1.5,"k":"s"},{"x":213,"y":1.65,"k":"s"},{"x":215,"y":1.62,"k":"s"},{"x":217,"y":1.62,"k":"s"},{"x":218,"y":1.38,"k":"s"},{"x":219,"y":1.62,"k":"s"},{"x":221,"y":1.62,"k":"s"},{"x":222,"y":1.34,"k":"s"},{"x":223,"y":1.62,"k":"s"},{"x":224,"y":1.62,"k":"s"},{"x":225,"y":1.27,"k":"s"},{"x":226,"y":1.36,"k":"s"},{"x":227,"y":1.62,"k":"s"},{"x":228,"y":1.42,"k":"s"},{"x":229,"y":1.3,"k":"s"},{"x":230,"y":1.25,"k":"s"},{"x":231,"y":1.19,"k":"s"},{"x":232,"y":1.17,"k":"s"},{"x":233,"y":1.0,"k":"s"},{"x":234,"y":0.98,"k":"s"},
      {"x":235,"y":0.92,"k":"a"},{"x":237,"y":0.84,"k":"a"},{"x":239,"y":0.76,"k":"a"},{"x":241,"y":0.7,"k":"a"},{"x":244,"y":0.65,"k":"a"},{"x":247,"y":0.62,"k":"a"},{"x":250,"y":0.6,"k":"a"},{"x":254,"y":0.59,"k":"a"},{"x":258,"y":0.59,"k":"a"},{"x":262,"y":0.6,"k":"a"},{"x":266,"y":0.61,"k":"a"},{"x":270,"y":0.63,"k":"a"},{"x":274,"y":0.65,"k":"a"},{"x":278,"y":0.66,"k":"a"},{"x":282,"y":0.64,"k":"a"},{"x":286,"y":0.61,"k":"a"},{"x":290,"y":0.57,"k":"a"},{"x":294,"y":0.52,"k":"a"},{"x":298,"y":0.47,"k":"a"},{"x":302,"y":0.42,"k":"a"},{"x":306,"y":0.38,"k":"a"},{"x":310,"y":0.36,"k":"a"},{"x":315,"y":0.35,"k":"a"},{"x":320,"y":0.34,"k":"a"},{"x":325,"y":0.33,"k":"a"},{"x":330,"y":0.31,"k":"a"},{"x":335,"y":0.28,"k":"a"},{"x":340,"y":0.24,"k":"a"},{"x":345,"y":0.2,"k":"a"},{"x":350,"y":0.16,"k":"a"},{"x":355,"y":0.12,"k":"a"},{"x":360,"y":0.09,"k":"a"},{"x":365,"y":0.07,"k":"a"},{"x":370,"y":0.055,"k":"a"},{"x":380,"y":0.04,"k":"a"},{"x":390,"y":0.035,"k":"a"},{"x":400,"y":0.03,"k":"a"},{"x":420,"y":0.025,"k":"a"},{"x":440,"y":0.02,"k":"a"},{"x":460,"y":0.02,"k":"a"},{"x":480,"y":0.02,"k":"a"},{"x":500,"y":0.015,"k":"a"},{"x":520,"y":0.015,"k":"a"},{"x":540,"y":0.015,"k":"a"},{"x":560,"y":0.015,"k":"a"},{"x":580,"y":0.015,"k":"a"},{"x":600,"y":0.01,"k":"a"},{"x":620,"y":0.01,"k":"a"},{"x":640,"y":0.01,"k":"a"},{"x":660,"y":0.01,"k":"a"},{"x":680,"y":0.01,"k":"a"},{"x":700,"y":0.01,"k":"a"}],
    "f7": [{"x":197,"y":1.97},{"x":205,"y":1.74},{"x":213,"y":1.54},{"x":221,"y":1.36},{"x":230,"y":1.18},{"x":240,"y":1.02},{"x":250,"y":0.87},{"x":260,"y":0.75},{"x":270,"y":0.64},{"x":280,"y":0.55},{"x":291,"y":0.46},{"x":301,"y":0.39},{"x":311,"y":0.33},{"x":321,"y":0.28},{"x":332,"y":0.24},{"x":342,"y":0.195},{"x":352,"y":0.15},{"x":362,"y":0.11},{"x":372,"y":0.08},{"x":393,"y":0.05},{"x":413,"y":0.03},{"x":434,"y":0.02},{"x":475,"y":0.015},{"x":515,"y":0.013},{"x":597,"y":0.013},{"x":678,"y":0.005},{"x":696,"y":0.02}],
    "d8": [{"x":203,"y":2.5,"k":"s"},{"x":205,"y":2.5,"k":"s"},{"x":207,"y":2.5,"k":"s"},{"x":209,"y":2.5,"k":"s"},{"x":211,"y":2.5,"k":"s"},{"x":213,"y":2.5,"k":"s"},{"x":215,"y":2.5,"k":"s"},{"x":217,"y":2.5,"k":"s"},{"x":219,"y":2.5,"k":"s"},{"x":221,"y":2.5,"k":"s"},{"x":223,"y":2.5,"k":"s"},{"x":225,"y":2.5,"k":"s"},{"x":227,"y":2.5,"k":"s"},{"x":229,"y":2.5,"k":"s"},{"x":231,"y":2.5,"k":"s"},{"x":233,"y":2.5,"k":"s"},{"x":235,"y":2.5,"k":"s"},{"x":237,"y":2.5,"k":"s"},{"x":244,"y":2.5,"k":"s"},{"x":254,"y":2.5,"k":"s"},{"x":256,"y":2.5,"k":"s"},{"x":258,"y":2.5,"k":"s"},{"x":260,"y":2.5,"k":"s"},{"x":262,"y":2.5,"k":"s"},{"x":264,"y":2.5,"k":"s"},{"x":266,"y":2.5,"k":"s"},{"x":268,"y":2.5,"k":"s"},{"x":270,"y":2.5,"k":"s"},{"x":274,"y":2.5,"k":"s"},{"x":276,"y":2.5,"k":"s"},{"x":278,"y":2.5,"k":"s"},{"x":280,"y":2.5,"k":"s"},{"x":282,"y":2.5,"k":"s"},{"x":284,"y":2.5,"k":"s"},{"x":286,"y":2.5,"k":"s"},{"x":288,"y":2.5,"k":"s"},{"x":290,"y":2.5,"k":"s"},{"x":292,"y":2.5,"k":"s"},{"x":294,"y":2.5,"k":"s"},{"x":296,"y":2.5,"k":"s"},{"x":336,"y":2.5,"k":"s"},
      {"x":215,"y":1.6,"k":"s"},{"x":218,"y":1.6,"k":"s"},{"x":221,"y":1.61,"k":"s"},{"x":224,"y":1.61,"k":"s"},{"x":227,"y":1.62,"k":"s"},{"x":230,"y":1.62,"k":"s"},{"x":234,"y":1.63,"k":"s"},{"x":237,"y":1.64,"k":"s"},{"x":240,"y":1.64,"k":"s"},{"x":243,"y":1.64,"k":"s"},{"x":246,"y":1.64,"k":"s"},{"x":249,"y":1.63,"k":"s"},{"x":252,"y":1.63,"k":"s"},{"x":255,"y":1.62,"k":"s"},{"x":258,"y":1.62,"k":"s"},{"x":278,"y":1.66,"k":"s"},{"x":301,"y":1.7,"k":"s"},{"x":327,"y":1.73,"k":"s"},{"x":330,"y":1.73,"k":"s"},{"x":332,"y":1.73,"k":"s"},{"x":338,"y":1.79,"k":"s"},{"x":340,"y":1.8,"k":"s"},{"x":342,"y":1.8,"k":"s"},{"x":344,"y":1.8,"k":"s"},
      {"x":225,"y":1.43,"k":"s"},{"x":228,"y":1.43,"k":"s"},{"x":231,"y":1.42,"k":"s"},{"x":235,"y":1.42,"k":"s"},{"x":239,"y":1.41,"k":"s"},{"x":243,"y":1.41,"k":"s"},{"x":247,"y":1.4,"k":"s"},{"x":251,"y":1.4,"k":"s"},{"x":255,"y":1.4,"k":"s"},{"x":259,"y":1.4,"k":"s"},{"x":263,"y":1.4,"k":"s"},{"x":267,"y":1.4,"k":"s"},{"x":271,"y":1.4,"k":"s"},{"x":275,"y":1.4,"k":"s"},{"x":279,"y":1.4,"k":"s"},{"x":283,"y":1.4,"k":"s"},{"x":287,"y":1.4,"k":"s"},{"x":291,"y":1.4,"k":"s"},{"x":295,"y":1.4,"k":"s"},{"x":299,"y":1.4,"k":"s"},{"x":303,"y":1.4,"k":"s"},{"x":307,"y":1.4,"k":"s"},{"x":311,"y":1.4,"k":"s"},{"x":315,"y":1.4,"k":"s"},{"x":319,"y":1.4,"k":"s"},{"x":323,"y":1.4,"k":"s"},{"x":327,"y":1.4,"k":"s"},{"x":331,"y":1.4,"k":"s"},{"x":334,"y":1.38,"k":"s"},{"x":337,"y":1.36,"k":"s"},{"x":340,"y":1.36,"k":"s"},{"x":343,"y":1.36,"k":"s"},{"x":346,"y":1.36,"k":"s"},
      {"x":198,"y":1.44,"k":"s"},{"x":198,"y":1.36,"k":"s"},{"x":200,"y":1.53,"k":"s"},{"x":202,"y":1.52,"k":"s"},{"x":204,"y":1.69,"k":"s"},{"x":210,"y":1.48,"k":"s"},{"x":282,"y":1.26,"k":"s"},{"x":343,"y":1.24,"k":"s"},{"x":345,"y":1.22,"k":"s"},{"x":346,"y":1.14,"k":"s"},{"x":348,"y":1.08,"k":"s"},{"x":349,"y":1.01,"k":"s"},
      {"x":350,"y":0.95,"k":"a"},{"x":352,"y":0.85,"k":"a"},{"x":354,"y":0.76,"k":"a"},{"x":356,"y":0.68,"k":"a"},{"x":359,"y":0.6,"k":"a"},{"x":362,"y":0.54,"k":"a"},{"x":366,"y":0.48,"k":"a"},{"x":370,"y":0.43,"k":"a"},{"x":375,"y":0.38,"k":"a"},{"x":380,"y":0.34,"k":"a"},{"x":386,"y":0.31,"k":"a"},{"x":392,"y":0.295,"k":"a"},{"x":399,"y":0.285,"k":"a"},{"x":406,"y":0.29,"k":"a"},{"x":412,"y":0.31,"k":"a"},{"x":418,"y":0.34,"k":"a"},{"x":424,"y":0.375,"k":"a"},{"x":430,"y":0.4,"k":"a"},{"x":436,"y":0.43,"k":"a"},{"x":442,"y":0.46,"k":"a"},{"x":448,"y":0.49,"k":"a"},{"x":454,"y":0.51,"k":"a"},{"x":460,"y":0.53,"k":"a"},{"x":465,"y":0.56,"k":"a"},{"x":470,"y":0.62,"k":"a"},{"x":474,"y":0.7,"k":"a"},{"x":478,"y":0.78,"k":"a"},{"x":482,"y":0.82,"k":"a"},{"x":486,"y":0.84,"k":"a"},{"x":490,"y":0.86,"k":"a"},{"x":494,"y":0.87,"k":"a"},{"x":498,"y":0.88,"k":"a"},{"x":502,"y":0.92,"k":"a"},{"x":506,"y":0.98,"k":"a"},{"x":510,"y":1.03,"k":"a"},{"x":514,"y":1.04,"k":"a"},{"x":518,"y":1.03,"k":"a"},{"x":521,"y":0.95,"k":"a"},{"x":524,"y":0.85,"k":"a"},{"x":527,"y":0.74,"k":"a"},{"x":530,"y":0.67,"k":"a"},{"x":534,"y":0.6,"k":"a"},{"x":538,"y":0.58,"k":"a"},{"x":543,"y":0.58,"k":"a"},{"x":548,"y":0.6,"k":"a"},{"x":552,"y":0.62,"k":"a"},{"x":556,"y":0.62,"k":"a"},{"x":560,"y":0.6,"k":"a"},{"x":563,"y":0.56,"k":"a"},{"x":566,"y":0.48,"k":"a"},{"x":569,"y":0.4,"k":"a"},{"x":572,"y":0.33,"k":"a"},{"x":576,"y":0.26,"k":"a"},{"x":580,"y":0.21,"k":"a"},{"x":584,"y":0.16,"k":"a"},{"x":590,"y":0.12,"k":"a"},{"x":600,"y":0.09,"k":"a"},{"x":620,"y":0.08,"k":"a"},{"x":640,"y":0.075,"k":"a"},{"x":660,"y":0.07,"k":"a"},{"x":680,"y":0.065,"k":"a"},{"x":698,"y":0.06,"k":"a"}],
    "f8": [{"x":198,"y":1.64},{"x":205,"y":1.82},{"x":211,"y":1.94},{"x":220,"y":2.03},{"x":230,"y":2.07},{"x":240,"y":2.08},{"x":250,"y":2.07},{"x":260,"y":2.03},{"x":270,"y":1.95},{"x":280,"y":1.85},{"x":290,"y":1.72},{"x":301,"y":1.57},{"x":311,"y":1.42},{"x":321,"y":1.26},{"x":332,"y":1.12},{"x":342,"y":0.99},{"x":352,"y":0.85},{"x":362,"y":0.71},{"x":373,"y":0.63},{"x":383,"y":0.56},{"x":394,"y":0.52},{"x":404,"y":0.49},{"x":418,"y":0.46},{"x":432,"y":0.44},{"x":448,"y":0.47},{"x":465,"y":0.53},{"x":480,"y":0.58},{"x":498,"y":0.62},{"x":512,"y":0.65},{"x":526,"y":0.66},{"x":547,"y":0.65},{"x":557,"y":0.6},{"x":567,"y":0.53},{"x":578,"y":0.45},{"x":588,"y":0.35},{"x":598,"y":0.24},{"x":608,"y":0.13},{"x":618,"y":0.04},{"x":629,"y":-0.05},{"x":639,"y":-0.1},{"x":649,"y":-0.14},{"x":660,"y":-0.14},{"x":670,"y":-0.09},{"x":682,"y":0.1},{"x":692,"y":0.3},{"x":698,"y":0.44}],
    "d9": [{"x":214,"y":2.5,"k":"s"},{"x":216,"y":2.5,"k":"s"},{"x":218,"y":2.5,"k":"s"},{"x":220,"y":2.5,"k":"s"},{"x":222,"y":2.5,"k":"s"},{"x":224,"y":2.5,"k":"s"},{"x":226,"y":2.5,"k":"s"},{"x":228,"y":2.5,"k":"s"},{"x":230,"y":2.5,"k":"s"},{"x":232,"y":2.5,"k":"s"},{"x":234,"y":2.5,"k":"s"},{"x":236,"y":2.5,"k":"s"},{"x":238,"y":2.5,"k":"s"},{"x":244,"y":2.5,"k":"s"},{"x":257,"y":2.5,"k":"s"},{"x":259,"y":2.5,"k":"s"},{"x":261,"y":2.5,"k":"s"},{"x":263,"y":2.5,"k":"s"},{"x":265,"y":2.5,"k":"s"},{"x":273,"y":2.5,"k":"s"},{"x":275,"y":2.5,"k":"s"},{"x":277,"y":2.5,"k":"s"},{"x":279,"y":2.5,"k":"s"},{"x":281,"y":2.5,"k":"s"},{"x":283,"y":2.5,"k":"s"},{"x":285,"y":2.5,"k":"s"},{"x":287,"y":2.5,"k":"s"},{"x":289,"y":2.5,"k":"s"},{"x":291,"y":2.5,"k":"s"},{"x":293,"y":2.5,"k":"s"},{"x":295,"y":2.5,"k":"s"},{"x":297,"y":2.5,"k":"s"},{"x":304,"y":2.5,"k":"s"},{"x":312,"y":2.5,"k":"s"},{"x":328,"y":2.5,"k":"s"},{"x":330,"y":2.5,"k":"s"},{"x":332,"y":2.5,"k":"s"},{"x":334,"y":2.5,"k":"s"},{"x":347,"y":2.5,"k":"s"},{"x":353,"y":2.5,"k":"s"},
      {"x":201,"y":1.55,"k":"s"},{"x":203,"y":1.57,"k":"s"},{"x":205,"y":1.57,"k":"s"},{"x":207,"y":1.57,"k":"s"},{"x":209,"y":1.57,"k":"s"},{"x":213,"y":1.56,"k":"s"},{"x":224,"y":1.59,"k":"s"},{"x":232,"y":1.61,"k":"s"},
      {"x":197,"y":1.39,"k":"s"},{"x":201,"y":1.39,"k":"s"},{"x":205,"y":1.39,"k":"s"},{"x":209,"y":1.39,"k":"s"},{"x":213,"y":1.39,"k":"s"},{"x":217,"y":1.39,"k":"s"},{"x":221,"y":1.39,"k":"s"},{"x":225,"y":1.39,"k":"s"},{"x":229,"y":1.39,"k":"s"},{"x":233,"y":1.39,"k":"s"},{"x":237,"y":1.39,"k":"s"},{"x":241,"y":1.39,"k":"s"},{"x":245,"y":1.38,"k":"s"},{"x":249,"y":1.37,"k":"s"},{"x":253,"y":1.37,"k":"s"},{"x":257,"y":1.38,"k":"s"},{"x":261,"y":1.39,"k":"s"},{"x":265,"y":1.39,"k":"s"},{"x":269,"y":1.39,"k":"s"},{"x":273,"y":1.39,"k":"s"},{"x":277,"y":1.39,"k":"s"},{"x":281,"y":1.39,"k":"s"},{"x":285,"y":1.39,"k":"s"},{"x":289,"y":1.39,"k":"s"},{"x":293,"y":1.39,"k":"s"},{"x":297,"y":1.39,"k":"s"},{"x":301,"y":1.39,"k":"s"},{"x":305,"y":1.39,"k":"s"},{"x":309,"y":1.39,"k":"s"},{"x":313,"y":1.39,"k":"s"},{"x":317,"y":1.39,"k":"s"},{"x":321,"y":1.39,"k":"s"},{"x":325,"y":1.39,"k":"s"},{"x":329,"y":1.39,"k":"s"},{"x":332,"y":1.39,"k":"s"},
      {"x":199,"y":1.3,"k":"s"},{"x":223,"y":1.32,"k":"s"},{"x":252,"y":1.32,"k":"s"},{"x":276,"y":1.33,"k":"s"},{"x":300,"y":1.33,"k":"s"},{"x":329,"y":1.36,"k":"s"},
      {"x":215,"y":1.24,"k":"s"},{"x":240,"y":1.24,"k":"s"},{"x":243,"y":1.23,"k":"s"},{"x":246,"y":1.24,"k":"s"},{"x":249,"y":1.23,"k":"s"},{"x":262,"y":1.23,"k":"s"},{"x":265,"y":1.23,"k":"s"},{"x":268,"y":1.23,"k":"s"},{"x":271,"y":1.23,"k":"s"},{"x":286,"y":1.23,"k":"s"},{"x":322,"y":1.23,"k":"s"},{"x":358,"y":1.23,"k":"s"},
      {"x":281,"y":1.68,"k":"s"},{"x":283,"y":1.69,"k":"s"},{"x":285,"y":1.68,"k":"s"},
      {"x":334,"y":1.78,"k":"s"},{"x":336,"y":1.78,"k":"s"},{"x":338,"y":1.78,"k":"s"},{"x":340,"y":1.78,"k":"s"},{"x":342,"y":1.78,"k":"s"},{"x":344,"y":1.78,"k":"s"},{"x":346,"y":1.78,"k":"s"},{"x":348,"y":1.78,"k":"s"},{"x":350,"y":1.78,"k":"s"},{"x":352,"y":1.77,"k":"s"},{"x":354,"y":1.78,"k":"s"},{"x":356,"y":1.78,"k":"s"},{"x":358,"y":1.78,"k":"s"},{"x":334,"y":1.71,"k":"s"},{"x":336,"y":1.72,"k":"s"},{"x":338,"y":1.71,"k":"s"},{"x":340,"y":1.72,"k":"s"},{"x":342,"y":1.72,"k":"s"},
      {"x":346,"y":1.34,"k":"s"},{"x":349,"y":1.35,"k":"s"},{"x":352,"y":1.33,"k":"s"},{"x":355,"y":1.39,"k":"s"},{"x":357,"y":1.39,"k":"s"},
      {"x":469,"y":1.22,"k":"s"},{"x":472,"y":1.22,"k":"s"},{"x":475,"y":1.22,"k":"s"},{"x":478,"y":1.22,"k":"s"},{"x":481,"y":1.22,"k":"s"},{"x":484,"y":1.22,"k":"s"},{"x":486,"y":1.22,"k":"s"},
      {"x":478,"y":1.35,"k":"s"},{"x":481,"y":1.35,"k":"s"},{"x":484,"y":1.35,"k":"s"},{"x":487,"y":1.35,"k":"s"},{"x":490,"y":1.35,"k":"s"},{"x":493,"y":1.35,"k":"s"},{"x":496,"y":1.35,"k":"s"},{"x":499,"y":1.35,"k":"s"},{"x":502,"y":1.35,"k":"s"},{"x":505,"y":1.35,"k":"s"},{"x":508,"y":1.35,"k":"s"},{"x":511,"y":1.35,"k":"s"},{"x":514,"y":1.35,"k":"s"},{"x":517,"y":1.35,"k":"s"},{"x":520,"y":1.35,"k":"s"},{"x":523,"y":1.35,"k":"s"},{"x":526,"y":1.35,"k":"s"},{"x":529,"y":1.37,"k":"s"},{"x":532,"y":1.39,"k":"s"},{"x":534,"y":1.4,"k":"s"},
      {"x":500,"y":1.78,"k":"s"},{"x":504,"y":1.78,"k":"s"},{"x":507,"y":1.78,"k":"s"},{"x":510,"y":1.78,"k":"s"},{"x":513,"y":1.78,"k":"s"},{"x":516,"y":1.78,"k":"s"},{"x":519,"y":1.78,"k":"s"},{"x":522,"y":1.78,"k":"s"},{"x":525,"y":1.78,"k":"s"},
      {"x":502,"y":1.21,"k":"s"},{"x":523,"y":1.23,"k":"s"},{"x":526,"y":1.23,"k":"s"},{"x":529,"y":1.24,"k":"s"},{"x":532,"y":1.22,"k":"s"},{"x":535,"y":1.23,"k":"s"},
      {"x":527,"y":1.16,"k":"s"},{"x":530,"y":1.16,"k":"s"},{"x":533,"y":1.16,"k":"s"},{"x":536,"y":1.16,"k":"s"},{"x":539,"y":1.16,"k":"s"},{"x":542,"y":1.16,"k":"s"},{"x":545,"y":1.16,"k":"s"},{"x":548,"y":1.16,"k":"s"},{"x":551,"y":1.16,"k":"s"},{"x":554,"y":1.16,"k":"s"},{"x":557,"y":1.16,"k":"s"},
      {"x":545,"y":1.21,"k":"s"},{"x":548,"y":1.22,"k":"s"},{"x":551,"y":1.23,"k":"s"},{"x":554,"y":1.22,"k":"s"},{"x":557,"y":1.21,"k":"s"},{"x":560,"y":1.22,"k":"s"},{"x":563,"y":1.22,"k":"s"},{"x":566,"y":1.21,"k":"s"},{"x":568,"y":1.16,"k":"s"},
      {"x":361,"y":0.98,"k":"a"},{"x":363,"y":0.97,"k":"a"},{"x":365,"y":0.95,"k":"a"},{"x":367,"y":0.9,"k":"a"},{"x":370,"y":0.83,"k":"a"},{"x":373,"y":0.77,"k":"a"},{"x":376,"y":0.72,"k":"a"},{"x":380,"y":0.68,"k":"a"},{"x":385,"y":0.64,"k":"a"},{"x":390,"y":0.62,"k":"a"},{"x":396,"y":0.61,"k":"a"},{"x":402,"y":0.615,"k":"a"},{"x":408,"y":0.63,"k":"a"},{"x":414,"y":0.65,"k":"a"},{"x":420,"y":0.68,"k":"a"},{"x":425,"y":0.72,"k":"a"},{"x":430,"y":0.77,"k":"a"},{"x":435,"y":0.81,"k":"a"},{"x":440,"y":0.86,"k":"a"},{"x":444,"y":0.89,"k":"a"},{"x":448,"y":0.95,"k":"a"},{"x":451,"y":1.02,"k":"a"},{"x":454,"y":1.07,"k":"a"},{"x":457,"y":1.1,"k":"a"},{"x":460,"y":1.13,"k":"a"},{"x":464,"y":1.14,"k":"a"},{"x":467,"y":1.15,"k":"a"},
      {"x":569,"y":1.03,"k":"b"},{"x":571,"y":0.88,"k":"b"},{"x":572,"y":0.75,"k":"b"},{"x":574,"y":0.62,"k":"b"},{"x":576,"y":0.5,"k":"b"},{"x":578,"y":0.42,"k":"b"},{"x":580,"y":0.36,"k":"b"},{"x":583,"y":0.3,"k":"b"},{"x":587,"y":0.26,"k":"b"},{"x":592,"y":0.24,"k":"b"},{"x":600,"y":0.22,"k":"b"},{"x":610,"y":0.2,"k":"b"},{"x":620,"y":0.19,"k":"b"},{"x":633,"y":0.18,"k":"b"},{"x":650,"y":0.17,"k":"b"},{"x":670,"y":0.16,"k":"b"},{"x":685,"y":0.15,"k":"b"},{"x":700,"y":0.135,"k":"b"}],
    "f9": [{"x":197,"y":1.41},{"x":210,"y":1.53},{"x":224,"y":1.64},{"x":236,"y":1.74},{"x":248,"y":1.8},{"x":256,"y":1.82},{"x":265,"y":1.82},{"x":275,"y":1.77},{"x":285,"y":1.7},{"x":295,"y":1.61},{"x":306,"y":1.52},{"x":316,"y":1.41},{"x":326,"y":1.3},{"x":336,"y":1.2},{"x":347,"y":1.12},{"x":357,"y":1.05},{"x":367,"y":1.0},{"x":377,"y":0.97},{"x":388,"y":0.95},{"x":398,"y":0.94},{"x":408,"y":0.94},{"x":418,"y":0.96},{"x":428,"y":0.98},{"x":439,"y":1.02},{"x":449,"y":1.07},{"x":459,"y":1.11},{"x":469,"y":1.16},{"x":480,"y":1.2},{"x":490,"y":1.22},{"x":500,"y":1.23},{"x":510,"y":1.22},{"x":520,"y":1.2},{"x":531,"y":1.16},{"x":541,"y":1.11},{"x":551,"y":1.05},{"x":561,"y":0.94},{"x":572,"y":0.8},{"x":582,"y":0.65},{"x":592,"y":0.49},{"x":602,"y":0.33},{"x":613,"y":0.17},{"x":623,"y":0.05},{"x":633,"y":-0.05},{"x":643,"y":-0.1},{"x":653,"y":-0.12},{"x":662,"y":-0.1},{"x":670,"y":-0.05},{"x":678,"y":0.05},{"x":686,"y":0.22},{"x":693,"y":0.42},{"x":700,"y":0.64}],
    "d10": [{"x":218,"y":2.5,"k":"s"},{"x":226,"y":2.5,"k":"s"},{"x":234,"y":2.5,"k":"s"},{"x":236,"y":2.5,"k":"s"},{"x":238,"y":2.5,"k":"s"},{"x":258,"y":2.5,"k":"s"},
      {"x":206,"y":1.57,"k":"s"},{"x":208,"y":1.57,"k":"s"},{"x":210,"y":1.57,"k":"s"},{"x":212,"y":1.57,"k":"s"},{"x":214,"y":1.57,"k":"s"},{"x":216,"y":1.57,"k":"s"},{"x":218,"y":1.58,"k":"s"},{"x":220,"y":1.57,"k":"s"},{"x":222,"y":1.57,"k":"s"},{"x":224,"y":1.57,"k":"s"},{"x":226,"y":1.57,"k":"s"},{"x":228,"y":1.57,"k":"s"},{"x":230,"y":1.57,"k":"s"},{"x":232,"y":1.58,"k":"s"},{"x":236,"y":1.59,"k":"s"},{"x":240,"y":1.6,"k":"s"},{"x":252,"y":1.62,"k":"s"},{"x":254,"y":1.64,"k":"s"},{"x":256,"y":1.62,"k":"s"},{"x":275,"y":1.68,"k":"s"},{"x":277,"y":1.69,"k":"s"},{"x":279,"y":1.68,"k":"s"},{"x":281,"y":1.68,"k":"s"},{"x":294,"y":1.68,"k":"s"},
      {"x":198,"y":1.39,"k":"s"},{"x":201,"y":1.39,"k":"s"},{"x":204,"y":1.39,"k":"s"},{"x":207,"y":1.39,"k":"s"},{"x":210,"y":1.39,"k":"s"},{"x":213,"y":1.39,"k":"s"},{"x":216,"y":1.39,"k":"s"},{"x":219,"y":1.39,"k":"s"},{"x":222,"y":1.39,"k":"s"},{"x":225,"y":1.39,"k":"s"},{"x":228,"y":1.39,"k":"s"},{"x":231,"y":1.39,"k":"s"},{"x":234,"y":1.39,"k":"s"},{"x":237,"y":1.39,"k":"s"},{"x":240,"y":1.39,"k":"s"},{"x":243,"y":1.39,"k":"s"},{"x":246,"y":1.39,"k":"s"},{"x":249,"y":1.39,"k":"s"},{"x":256,"y":1.36,"k":"s"},{"x":260,"y":1.34,"k":"s"},{"x":262,"y":1.39,"k":"s"},{"x":264,"y":1.39,"k":"s"},{"x":266,"y":1.38,"k":"s"},{"x":268,"y":1.38,"k":"s"},{"x":270,"y":1.39,"k":"s"},{"x":276,"y":1.38,"k":"s"},{"x":279,"y":1.39,"k":"s"},{"x":282,"y":1.39,"k":"s"},{"x":285,"y":1.38,"k":"s"},{"x":288,"y":1.38,"k":"s"},{"x":290,"y":1.39,"k":"s"},{"x":292,"y":1.38,"k":"s"},{"x":294,"y":1.39,"k":"s"},
      {"x":199,"y":1.31,"k":"s"},{"x":201,"y":1.32,"k":"s"},{"x":203,"y":1.31,"k":"s"},{"x":205,"y":1.31,"k":"s"},{"x":217,"y":1.32,"k":"s"},{"x":220,"y":1.31,"k":"s"},{"x":223,"y":1.32,"k":"s"},{"x":252,"y":1.33,"k":"s"},{"x":255,"y":1.33,"k":"s"},{"x":258,"y":1.32,"k":"s"},{"x":266,"y":1.33,"k":"s"},{"x":283,"y":1.33,"k":"s"},
      {"x":215,"y":1.24,"k":"s"},{"x":227,"y":1.23,"k":"s"},{"x":243,"y":1.23,"k":"s"},{"x":246,"y":1.23,"k":"s"},{"x":249,"y":1.24,"k":"s"},{"x":251,"y":1.23,"k":"s"},{"x":261,"y":1.23,"k":"s"},{"x":263,"y":1.23,"k":"s"},{"x":265,"y":1.23,"k":"s"},{"x":267,"y":1.23,"k":"s"},{"x":269,"y":1.23,"k":"s"},{"x":271,"y":1.23,"k":"s"},{"x":273,"y":1.23,"k":"s"},{"x":275,"y":1.23,"k":"s"},
      {"x":291,"y":1.23,"k":"s"},{"x":293,"y":1.23,"k":"s"},{"x":295,"y":1.24,"k":"s"},{"x":297,"y":1.23,"k":"s"},{"x":299,"y":1.23,"k":"s"},{"x":301,"y":1.22,"k":"s"},{"x":303,"y":1.2,"k":"s"},{"x":305,"y":1.15,"k":"s"},{"x":307,"y":1.15,"k":"s"},{"x":309,"y":1.15,"k":"s"},{"x":311,"y":1.15,"k":"s"},{"x":313,"y":1.14,"k":"s"},{"x":315,"y":1.15,"k":"s"},{"x":317,"y":1.13,"k":"s"},{"x":319,"y":1.09,"k":"s"},{"x":321,"y":1.09,"k":"s"},{"x":323,"y":1.09,"k":"s"},{"x":325,"y":1.1,"k":"s"},{"x":327,"y":1.13,"k":"s"},{"x":329,"y":1.09,"k":"s"},{"x":331,"y":1.08,"k":"s"},{"x":333,"y":1.07,"k":"s"},{"x":335,"y":1.06,"k":"s"},{"x":337,"y":1.02,"k":"s"},{"x":339,"y":0.96,"k":"s"},{"x":341,"y":0.93,"k":"s"},
      {"x":343,"y":0.9,"k":"a"},{"x":345,"y":0.86,"k":"a"},{"x":347,"y":0.82,"k":"a"},{"x":349,"y":0.78,"k":"a"},{"x":351,"y":0.73,"k":"a"},{"x":353,"y":0.69,"k":"a"},{"x":355,"y":0.66,"k":"a"},{"x":358,"y":0.63,"k":"a"},{"x":362,"y":0.6,"k":"a"},{"x":368,"y":0.59,"k":"a"},{"x":375,"y":0.58,"k":"a"},{"x":384,"y":0.57,"k":"a"},{"x":395,"y":0.575,"k":"a"},{"x":405,"y":0.58,"k":"a"},{"x":415,"y":0.59,"k":"a"},{"x":425,"y":0.6,"k":"a"},{"x":435,"y":0.61,"k":"a"},{"x":445,"y":0.61,"k":"a"},{"x":455,"y":0.61,"k":"a"},{"x":465,"y":0.61,"k":"a"},{"x":475,"y":0.6,"k":"a"},{"x":485,"y":0.6,"k":"a"},{"x":494,"y":0.59,"k":"a"},{"x":500,"y":0.57,"k":"a"},{"x":506,"y":0.545,"k":"a"},{"x":515,"y":0.52,"k":"a"},{"x":526,"y":0.5,"k":"a"},{"x":536,"y":0.5,"k":"a"},{"x":547,"y":0.49,"k":"a"},{"x":557,"y":0.47,"k":"a"},{"x":567,"y":0.44,"k":"a"},{"x":577,"y":0.42,"k":"a"},{"x":587,"y":0.4,"k":"a"},{"x":597,"y":0.385,"k":"a"},{"x":608,"y":0.375,"k":"a"},{"x":618,"y":0.36,"k":"a"},{"x":628,"y":0.34,"k":"a"},{"x":640,"y":0.33,"k":"a"},{"x":655,"y":0.32,"k":"a"},{"x":669,"y":0.31,"k":"a"},{"x":685,"y":0.295,"k":"a"},{"x":699,"y":0.28,"k":"a"}],
    "f10": [{"x":198,"y":1.31},{"x":205,"y":1.43},{"x":214,"y":1.51},{"x":226,"y":1.57},{"x":238,"y":1.59},{"x":250,"y":1.53},{"x":263,"y":1.43},{"x":273,"y":1.37},{"x":283,"y":1.31},{"x":293,"y":1.23},{"x":303,"y":1.15},{"x":313,"y":1.07},{"x":323,"y":0.99},{"x":333,"y":0.93},{"x":344,"y":0.87},{"x":354,"y":0.79},{"x":364,"y":0.71},{"x":374,"y":0.66},{"x":384,"y":0.63},{"x":395,"y":0.6},{"x":405,"y":0.575},{"x":425,"y":0.57},{"x":445,"y":0.57},{"x":465,"y":0.57},{"x":486,"y":0.57},{"x":506,"y":0.55},{"x":526,"y":0.5},{"x":547,"y":0.47},{"x":567,"y":0.44},{"x":587,"y":0.405},{"x":608,"y":0.375},{"x":628,"y":0.35},{"x":648,"y":0.335},{"x":670,"y":0.32},{"x":699,"y":0.31}]
  },
  "spacing": 4,
  "resolve": {"scale": {"x": "independent", "y": "independent", "color": "independent", "shape": "independent"}, "legend": {"color": "independent", "shape": "independent"}},
  "vconcat": [
    {
      "hconcat": [
        {
          "vconcat": [{
            "width": 442, "height": 246, "title": "V0 Abs",
            "layer": [
              {"data": {"name": "d0"}, "transform": [{"filter": "datum.k != 's'"}], "mark": {"type": "line", "strokeWidth": 4, "interpolate": "monotone", "clip": true},
               "encoding": {
                 "x": {"field": "x", "type": "quantitative", "scale": {"domain": [180, 720], "nice": false, "zero": false}, "axis": {"values": [180, 280, 380, 480, 580, 680], "title": "(nm)", "titleX": 434, "titleY": 10}},
                 "y": {"field": "y", "type": "quantitative", "scale": {"domain": [0, 3], "nice": false}, "axis": {"values": [0, 0.5, 1, 1.5, 2, 2.5, 3], "tickCount": 12, "title": "(u.a.)", "labelOverlap": false, "labelExpr": "replace(toString(datum.value), '.', ',')"}},
                 "detail": {"field": "k"},
                 "color": {"datum": "V0 Abs", "scale": {"domain": ["V0 Abs", "Poly. (V0 Abs)"], "range": ["#ED7D31", "#E597AE"]}, "legend": {"title": null, "encode": {"symbols": {"update": {"stroke": {"signal": "datum.index == 0 ? '#ED7D31' : '#E597AE'"}, "size": {"signal": "datum.index == 0 ? 14 : 260"}}}}}}
               }},
              {"data": {"name": "d0"}, "mark": {"type": "point", "filled": true, "size": 12, "opacity": 1, "clip": true},
               "encoding": {"x": {"field": "x", "type": "quantitative"}, "y": {"field": "y", "type": "quantitative"}, "color": {"datum": "V0 Abs"}, "shape": {"datum": "V0 Abs", "scale": {"domain": ["V0 Abs", "Poly. (V0 Abs)"], "range": ["circle", "stroke"]}, "legend": {"title": null}}}},
              {"data": {"name": "f0"}, "mark": {"type": "line", "strokeWidth": 1.1, "interpolate": "natural", "clip": true},
               "encoding": {"x": {"field": "x", "type": "quantitative"}, "y": {"field": "y", "type": "quantitative"}, "color": {"datum": "Poly. (V0 Abs)"}}},
              {"data": {"values": [{}]}, "mark": {"type": "text", "style": "eq"},
               "encoding": {"x": {"datum": 480}, "y": {"datum": 1.99}, "text": {"value": ["y = -6E-16x⁶ + 2E-12x⁵ - 4E-09x⁴ + 3E-06x³ - 0,001x² + 0,1817x - 10,236", "R² = 0,9398"]}}}
            ]
          }],
          "title": {"text": "1. Vo -Abs", "orient": "bottom", "anchor": "middle", "fontSize": 31, "font": "Lato", "fontWeight": "normal", "color": "#000000", "offset": 8},
          "resolve": {"scale": {"color": "independent", "shape": "independent"}}
        },
        {
          "vconcat": [{
            "width": 440, "height": 246, "title": "V1 Abs",
            "layer": [
              {"data": {"name": "d1"}, "transform": [{"filter": "datum.k != 's'"}], "mark": {"type": "line", "strokeWidth": 4, "interpolate": "monotone", "clip": true},
               "encoding": {
                 "x": {"field": "x", "type": "quantitative", "scale": {"domain": [180, 720], "nice": false, "zero": false}, "axis": {"values": [180, 280, 380, 480, 580, 680], "title": "(nm)", "titleX": 432, "titleY": 10}},
                 "y": {"field": "y", "type": "quantitative", "scale": {"domain": [0, 3], "nice": false}, "axis": {"values": [0, 0.5, 1, 1.5, 2, 2.5, 3], "tickCount": 12, "title": "(u.a.)", "labelOverlap": false, "labelExpr": "replace(toString(datum.value), '.', ',')"}},
                 "detail": {"field": "k"},
                 "color": {"datum": "V1 Abs", "scale": {"domain": ["V1 Abs", "Poly. (V1 Abs)"], "range": ["#FFC000", "#E597AE"]}, "legend": {"title": null, "encode": {"symbols": {"update": {"stroke": {"signal": "datum.index == 0 ? '#FFC000' : '#E597AE'"}, "size": {"signal": "datum.index == 0 ? 14 : 260"}}}}}}
               }},
              {"data": {"name": "d1"}, "mark": {"type": "point", "filled": true, "size": 12, "opacity": 1, "clip": true},
               "encoding": {"x": {"field": "x", "type": "quantitative"}, "y": {"field": "y", "type": "quantitative"}, "color": {"datum": "V1 Abs"}, "shape": {"datum": "V1 Abs", "scale": {"domain": ["V1 Abs", "Poly. (V1 Abs)"], "range": ["circle", "stroke"]}, "legend": {"title": null}}}},
              {"data": {"name": "f1"}, "mark": {"type": "line", "strokeWidth": 1.1, "interpolate": "natural", "clip": true},
               "encoding": {"x": {"field": "x", "type": "quantitative"}, "y": {"field": "y", "type": "quantitative"}, "color": {"datum": "Poly. (V1 Abs)"}}},
              {"data": {"values": [{}]}, "mark": {"type": "text", "style": "eq"},
               "encoding": {"x": {"datum": 535}, "y": {"datum": 2.48}, "text": {"value": ["y = 5E-15x⁶ - 1E-11x⁵ + 1E-08x⁴ - 6E-06x³ + 0,0018x² - 0,2775x + 18,891", "R² = 0,9143"]}}}
            ]
          }],
          "title": {"text": "2. V1 - Abs", "orient": "bottom", "anchor": "middle", "fontSize": 31, "font": "Lato", "fontWeight": "normal", "color": "#000000", "offset": 8},
          "resolve": {"scale": {"color": "independent", "shape": "independent"}}
        },
        {
          "vconcat": [{
            "width": 440, "height": 246, "title": "V2 Abs",
            "layer": [
              {"data": {"name": "d2"}, "transform": [{"filter": "datum.k != 's'"}], "mark": {"type": "line", "strokeWidth": 4, "interpolate": "monotone", "clip": true},
               "encoding": {
                 "x": {"field": "x", "type": "quantitative", "scale": {"domain": [180, 720], "nice": false, "zero": false}, "axis": {"values": [180, 280, 380, 480, 580, 680], "title": "(nm)", "titleX": 434, "titleY": 11}},
                 "y": {"field": "y", "type": "quantitative", "scale": {"domain": [0, 3], "nice": false}, "axis": {"values": [0, 0.5, 1, 1.5, 2, 2.5, 3], "tickCount": 12, "title": "(u.a.)", "labelOverlap": false, "labelExpr": "replace(toString(datum.value), '.', ',')"}},
                 "detail": {"field": "k"},
                 "color": {"datum": "V2 Abs", "scale": {"domain": ["V2 Abs", "Poly. (V2 Abs)"], "range": ["#70AD47", "#E597AE"]}, "legend": {"title": null, "encode": {"symbols": {"update": {"stroke": {"signal": "datum.index == 0 ? '#70AD47' : '#E597AE'"}, "size": {"signal": "datum.index == 0 ? 14 : 260"}}}}}}
               }},
              {"data": {"name": "d2"}, "mark": {"type": "point", "filled": true, "size": 12, "opacity": 1, "clip": true},
               "encoding": {"x": {"field": "x", "type": "quantitative"}, "y": {"field": "y", "type": "quantitative"}, "color": {"datum": "V2 Abs"}, "shape": {"datum": "V2 Abs", "scale": {"domain": ["V2 Abs", "Poly. (V2 Abs)"], "range": ["circle", "stroke"]}, "legend": {"title": null}}}},
              {"data": {"name": "f2"}, "mark": {"type": "line", "strokeWidth": 1.1, "interpolate": "natural", "clip": true},
               "encoding": {"x": {"field": "x", "type": "quantitative"}, "y": {"field": "y", "type": "quantitative"}, "color": {"datum": "Poly. (V2 Abs)"}}},
              {"data": {"values": [{}]}, "mark": {"type": "text", "style": "eq"},
               "encoding": {"x": {"datum": 546}, "y": {"datum": 2.44}, "text": {"value": ["y = -2E-15x⁶ + 9E-12x⁵ - 1E-08x⁴ + 1E-05x³ - 0,0037x² + 0,704x - 50,648", "R² = 0,8893"]}}}
            ]
          }],
          "title": {"text": "3. V2 - Abs", "orient": "bottom", "anchor": "middle", "fontSize": 31, "font": "Lato", "fontWeight": "normal", "color": "#000000", "offset": 8},
          "resolve": {"scale": {"color": "independent", "shape": "independent"}}
        },
        {
          "vconcat": [{
            "width": 422, "height": 258, "title": {"text": "V3 Abs", "offset": 8},
            "layer": [
              {"data": {"name": "d3"}, "transform": [{"filter": "datum.k != 's'"}], "mark": {"type": "line", "strokeWidth": 4, "interpolate": "monotone", "clip": true},
               "encoding": {
                 "x": {"field": "x", "type": "quantitative", "scale": {"domain": [200, 720], "nice": false, "zero": false}, "axis": {"values": [280, 380, 480, 580, 680], "title": "(nm)", "titleX": 412, "titleY": 12, "offset": -37}},
                 "y": {"field": "y", "type": "quantitative", "scale": {"domain": [-0.5, 3], "nice": false}, "axis": {"values": [-0.5, 0, 0.5, 1, 1.5, 2, 2.5, 3], "tickCount": 12, "title": null, "labelOpacity": 0, "labelOverlap": false, "labelExpr": "replace(toString(datum.value), '.', ',')"}},
                 "detail": {"field": "k"},
                 "color": {"datum": "V3 Abs", "scale": {"domain": ["V3 Abs", "Poly. (V3 Abs)"], "range": ["#843C0C", "#E597AE"]}, "legend": {"title": null, "encode": {"symbols": {"update": {"stroke": {"signal": "datum.index == 0 ? '#843C0C' : '#E597AE'"}, "size": {"signal": "datum.index == 0 ? 14 : 260"}}}}}}
               }},
              {"data": {"name": "d3"}, "mark": {"type": "point", "filled": true, "size": 12, "opacity": 1, "clip": true},
               "encoding": {"x": {"field": "x", "type": "quantitative"}, "y": {"field": "y", "type": "quantitative"}, "color": {"datum": "V3 Abs"}, "shape": {"datum": "V3 Abs", "scale": {"domain": ["V3 Abs", "Poly. (V3 Abs)"], "range": ["circle", "stroke"]}, "legend": {"title": null}}}},
              {"data": {"name": "f3"}, "mark": {"type": "line", "strokeWidth": 1.1, "interpolate": "natural", "clip": true},
               "encoding": {"x": {"field": "x", "type": "quantitative"}, "y": {"field": "y", "type": "quantitative"}, "color": {"datum": "Poly. (V3 Abs)"}}},
              {"data": {"values": [{}]}, "mark": {"type": "text", "style": "eq"},
               "encoding": {"x": {"datum": 541}, "y": {"datum": 2.4}, "text": {"value": ["y = -5E-16x⁶ + 6E-12x⁵ - 1E-08x⁴ + 1E-05x³ - 0,0045x² + 0,8923x - 65,79", "R² = 0,8073"]}}}
            ]
          }],
          "title": {"text": "4. V3 - Abs", "orient": "bottom", "anchor": "middle", "fontSize": 31, "font": "Lato", "fontWeight": "normal", "color": "#000000", "offset": 8},
          "resolve": {"scale": {"color": "independent", "shape": "independent"}}
        }
      ],
      "spacing": 11,
      "resolve": {"scale": {"x": "independent", "y": "independent", "color": "independent", "shape": "independent"}, "legend": {"color": "independent", "shape": "independent"}}
    },
    {
      "hconcat": [
        {
          "vconcat": [{
            "width": 440, "height": 258, "title": "V4 Abs",
            "layer": [
              {"data": {"name": "d4"}, "transform": [{"filter": "datum.k != 's'"}], "mark": {"type": "line", "strokeWidth": 4, "interpolate": "monotone", "clip": true},
               "encoding": {
                 "x": {"field": "x", "type": "quantitative", "scale": {"domain": [180, 720], "nice": false, "zero": false}, "axis": {"values": [180, 280, 380, 480, 580, 680], "title": "(nm)", "titleX": 430, "titleY": 11, "offset": -37}},
                 "y": {"field": "y", "type": "quantitative", "scale": {"domain": [-0.5, 3], "nice": false}, "axis": {"values": [-0.5, 0, 0.5, 1, 1.5, 2, 2.5, 3], "tickCount": 12, "title": "(u.a.)", "labelOverlap": false, "labelExpr": "replace(toString(datum.value), '.', ',')"}},
                 "detail": {"field": "k"},
                 "color": {"datum": "V4 Abs", "scale": {"domain": ["V4 Abs", "Poly. (V4 Abs)"], "range": ["#7C6C0E", "#E597AE"]}, "legend": {"title": null, "encode": {"symbols": {"update": {"stroke": {"signal": "datum.index == 0 ? '#7C6C0E' : '#E597AE'"}, "size": {"signal": "datum.index == 0 ? 14 : 260"}}}}}}
               }},
              {"data": {"name": "d4"}, "mark": {"type": "point", "filled": true, "size": 12, "opacity": 1, "clip": true},
               "encoding": {"x": {"field": "x", "type": "quantitative"}, "y": {"field": "y", "type": "quantitative"}, "color": {"datum": "V4 Abs"}, "shape": {"datum": "V4 Abs", "scale": {"domain": ["V4 Abs", "Poly. (V4 Abs)"], "range": ["circle", "stroke"]}, "legend": {"title": null}}}},
              {"data": {"name": "f4"}, "mark": {"type": "line", "strokeWidth": 1.1, "interpolate": "natural", "clip": true},
               "encoding": {"x": {"field": "x", "type": "quantitative"}, "y": {"field": "y", "type": "quantitative"}, "color": {"datum": "Poly. (V4 Abs)"}}},
              {"data": {"values": [{}]}, "mark": {"type": "text", "style": "eq"},
               "encoding": {"x": {"datum": 528}, "y": {"datum": 1.91}, "text": {"value": ["y = -1E-14x⁶ + 4E-11x⁵ - 4E-08x⁴ + 2E-05x³ - 0,007x² + 1,0628x - 60,806", "R² = 0,914"]}}}
            ]
          }],
          "title": {"text": "5. V4 -Abs", "orient": "bottom", "anchor": "middle", "fontSize": 31, "font": "Lato", "fontWeight": "normal", "color": "#000000", "offset": 2},
          "resolve": {"scale": {"color": "independent", "shape": "independent"}}
        },
        {
          "vconcat": [{
            "width": 440, "height": 246, "title": "V5 Abs",
            "layer": [
              {"data": {"name": "d5"}, "transform": [{"filter": "datum.k != 's'"}], "mark": {"type": "line", "strokeWidth": 4, "interpolate": "monotone", "clip": true},
               "encoding": {
                 "x": {"field": "x", "type": "quantitative", "scale": {"domain": [180, 720], "nice": false, "zero": false}, "axis": {"values": [180, 280, 380, 480, 580, 680], "title": "(nm)", "titleX": 433, "titleY": 11}},
                 "y": {"field": "y", "type": "quantitative", "scale": {"domain": [0, 3], "nice": false}, "axis": {"values": [0, 0.5, 1, 1.5, 2, 2.5, 3], "tickCount": 12, "title": "(u.a.)", "labelOverlap": false, "labelExpr": "replace(toString(datum.value), '.', ',')"}},
                 "detail": {"field": "k"},
                 "color": {"datum": "V5 Abs", "scale": {"domain": ["V5 Abs", "Poly. (V5 Abs)"], "range": ["#385723", "#E597AE"]}, "legend": {"title": null, "encode": {"symbols": {"update": {"stroke": {"signal": "datum.index == 0 ? '#385723' : '#E597AE'"}, "size": {"signal": "datum.index == 0 ? 14 : 260"}}}}}}
               }},
              {"data": {"name": "d5"}, "mark": {"type": "point", "filled": true, "size": 12, "opacity": 1, "clip": true},
               "encoding": {"x": {"field": "x", "type": "quantitative"}, "y": {"field": "y", "type": "quantitative"}, "color": {"datum": "V5 Abs"}, "shape": {"datum": "V5 Abs", "scale": {"domain": ["V5 Abs", "Poly. (V5 Abs)"], "range": ["circle", "stroke"]}, "legend": {"title": null}}}},
              {"data": {"name": "f5"}, "mark": {"type": "line", "strokeWidth": 1.1, "interpolate": "natural", "clip": true},
               "encoding": {"x": {"field": "x", "type": "quantitative"}, "y": {"field": "y", "type": "quantitative"}, "color": {"datum": "Poly. (V5 Abs)"}}},
              {"data": {"values": [{}]}, "mark": {"type": "text", "style": "eq"},
               "encoding": {"x": {"datum": 506}, "y": {"datum": 2.05}, "text": {"value": ["y = 8E-16x⁶ - 3E-12x⁵ + 4E-09x⁴ - 3E-06x³ + 0,0013x² - 0,2945x + 27,626", "R² = 0,8723"]}}}
            ]
          }],
          "title": {"text": "6. V5 - Abs", "orient": "bottom", "anchor": "middle", "fontSize": 31, "font": "Lato", "fontWeight": "normal", "color": "#000000", "offset": 2},
          "resolve": {"scale": {"color": "independent", "shape": "independent"}}
        },
        {
          "vconcat": [{
            "width": 420, "height": 258, "title": "V6 Abs",
            "layer": [
              {"data": {"name": "d6"}, "transform": [{"filter": "datum.k != 's'"}], "mark": {"type": "line", "strokeWidth": 4, "interpolate": "monotone", "clip": true},
               "encoding": {
                 "x": {"field": "x", "type": "quantitative", "scale": {"domain": [180, 697], "nice": false, "zero": false}, "axis": {"values": [180, 280, 380, 480, 580, 680], "title": null, "offset": -37}},
                 "y": {"field": "y", "type": "quantitative", "scale": {"domain": [-0.5, 3], "nice": false}, "axis": {"values": [-0.5, 0, 0.5, 1, 1.5, 2, 2.5, 3], "tickCount": 12, "title": "(u.a.)", "labelOverlap": false, "labelExpr": "replace(toString(datum.value), '.', ',')"}},
                 "detail": {"field": "k"},
                 "color": {"datum": "V6 Abs", "scale": {"domain": ["V6 Abs", "Poly. (V6 Abs)"], "range": ["#F4A06A", "#E597AE"]}, "legend": {"title": null, "encode": {"symbols": {"update": {"stroke": {"signal": "datum.index == 0 ? '#F4A06A' : '#E597AE'"}, "size": {"signal": "datum.index == 0 ? 14 : 260"}}}}}}
               }},
              {"data": {"name": "d6"}, "mark": {"type": "point", "filled": true, "size": 12, "opacity": 1, "clip": true},
               "encoding": {"x": {"field": "x", "type": "quantitative"}, "y": {"field": "y", "type": "quantitative"}, "color": {"datum": "V6 Abs"}, "shape": {"datum": "V6 Abs", "scale": {"domain": ["V6 Abs", "Poly. (V6 Abs)"], "range": ["circle", "stroke"]}, "legend": {"title": null}}}},
              {"data": {"name": "f6"}, "mark": {"type": "line", "strokeWidth": 1.1, "interpolate": "natural", "clip": true},
               "encoding": {"x": {"field": "x", "type": "quantitative"}, "y": {"field": "y", "type": "quantitative"}, "color": {"datum": "Poly. (V6 Abs)"}}},
              {"data": {"values": [{}]}, "mark": {"type": "text", "style": "eq"},
               "encoding": {"x": {"datum": 511}, "y": {"datum": 1.9}, "text": {"value": ["y = 7E-15x⁶ - 2E-11x⁵ + 3E-08x⁴ - 2E-05x³ + 0,0054x² - 0,9672x + 71,673", "R² = 0,8716"]}}}
            ]
          }],
          "title": {"text": "7. V6 - Abs", "orient": "bottom", "anchor": "middle", "fontSize": 31, "font": "Lato", "fontWeight": "normal", "color": "#000000", "offset": 2},
          "resolve": {"scale": {"color": "independent", "shape": "independent"}}
        },
        {
          "vconcat": [{
            "width": 439, "height": 258, "title": "V7 Abs",
            "layer": [
              {"data": {"name": "d7"}, "transform": [{"filter": "datum.k != 's'"}], "mark": {"type": "line", "strokeWidth": 4, "interpolate": "monotone", "clip": true},
               "encoding": {
                 "x": {"field": "x", "type": "quantitative", "scale": {"domain": [180, 720], "nice": false, "zero": false}, "axis": {"values": [180, 280, 380, 480, 580, 680], "title": "(nm)", "titleX": 417, "titleY": 29, "offset": -37}},
                 "y": {"field": "y", "type": "quantitative", "scale": {"domain": [-0.5, 3], "nice": false}, "axis": {"values": [-0.5, 0, 0.5, 1, 1.5, 2, 2.5, 3], "tickCount": 12, "title": "(u.a.)", "labelOverlap": false, "labelExpr": "replace(toString(datum.value), '.', ',')"}},
                 "detail": {"field": "k"},
                 "color": {"datum": "V7 Abs", "scale": {"domain": ["V7 Abs", "Poly. (V7 Abs)"], "range": ["#FFCD36", "#E597AE"]}, "legend": {"title": null, "encode": {"symbols": {"update": {"stroke": {"signal": "datum.index == 0 ? '#FFCD36' : '#E597AE'"}, "size": {"signal": "datum.index == 0 ? 14 : 260"}}}}}}
               }},
              {"data": {"name": "d7"}, "mark": {"type": "point", "filled": true, "size": 12, "opacity": 1, "clip": true},
               "encoding": {"x": {"field": "x", "type": "quantitative"}, "y": {"field": "y", "type": "quantitative"}, "color": {"datum": "V7 Abs"}, "shape": {"datum": "V7 Abs", "scale": {"domain": ["V7 Abs", "Poly. (V7 Abs)"], "range": ["circle", "stroke"]}, "legend": {"title": null}}}},
              {"data": {"name": "f7"}, "mark": {"type": "line", "strokeWidth": 1.1, "interpolate": "natural", "clip": true},
               "encoding": {"x": {"field": "x", "type": "quantitative"}, "y": {"field": "y", "type": "quantitative"}, "color": {"datum": "Poly. (V7 Abs)"}}},
              {"data": {"values": [{}]}, "mark": {"type": "text", "style": "eq"},
               "encoding": {"x": {"datum": 448}, "y": {"datum": 2.46}, "text": {"value": ["y = 3E-15x⁶ - 8E-12x⁵ + 9E-09x⁴ - 6E-06x³ + 0,0021x² - 0,4087x + 33,707", "R² = 0,9035"]}}}
            ]
          }],
          "title": {"text": "8. V7 - Abs", "orient": "bottom", "anchor": "middle", "fontSize": 31, "font": "Lato", "fontWeight": "normal", "color": "#000000", "offset": 2},
          "resolve": {"scale": {"color": "independent", "shape": "independent"}}
        }
      ],
      "spacing": 13,
      "resolve": {"scale": {"x": "independent", "y": "independent", "color": "independent", "shape": "independent"}, "legend": {"color": "independent", "shape": "independent"}}
    },
    {
      "hconcat": [
        {
          "vconcat": [{
            "width": 438, "height": 258, "title": "V8 Abs",
            "layer": [
              {"data": {"name": "d8"}, "transform": [{"filter": "datum.k != 's'"}], "mark": {"type": "line", "strokeWidth": 4, "interpolate": "monotone", "clip": true},
               "encoding": {
                 "x": {"field": "x", "type": "quantitative", "scale": {"domain": [180, 720], "nice": false, "zero": false}, "axis": {"values": [180, 280, 380, 480, 580, 680], "title": "(nm)", "titleX": 417, "titleY": 26, "offset": -37}},
                 "y": {"field": "y", "type": "quantitative", "scale": {"domain": [-0.5, 3], "nice": false}, "axis": {"values": [-0.5, 0, 0.5, 1, 1.5, 2, 2.5, 3], "tickCount": 12, "title": "(u.a.)", "labelOverlap": false, "labelExpr": "replace(toString(datum.value), '.', ',')"}},
                 "detail": {"field": "k"},
                 "color": {"datum": "V8 Abs", "scale": {"domain": ["V8 Abs", "Poly. (V8 Abs)"], "range": ["#8FD05A", "#E597AE"]}, "legend": {"title": null, "encode": {"symbols": {"update": {"stroke": {"signal": "datum.index == 0 ? '#8FD05A' : '#E597AE'"}, "size": {"signal": "datum.index == 0 ? 14 : 260"}}}}}}
               }},
              {"data": {"name": "d8"}, "mark": {"type": "point", "filled": true, "size": 12, "opacity": 1, "clip": true},
               "encoding": {"x": {"field": "x", "type": "quantitative"}, "y": {"field": "y", "type": "quantitative"}, "color": {"datum": "V8 Abs"}, "shape": {"datum": "V8 Abs", "scale": {"domain": ["V8 Abs", "Poly. (V8 Abs)"], "range": ["circle", "stroke"]}, "legend": {"title": null}}}},
              {"data": {"name": "f8"}, "mark": {"type": "line", "strokeWidth": 1.1, "interpolate": "natural", "clip": true},
               "encoding": {"x": {"field": "x", "type": "quantitative"}, "y": {"field": "y", "type": "quantitative"}, "color": {"datum": "Poly. (V8 Abs)"}}},
              {"data": {"values": [{}]}, "mark": {"type": "text", "style": "eq"},
               "encoding": {"x": {"datum": 470}, "y": {"datum": 2.31}, "text": {"value": ["y = 9E-15x⁶ - 2E-11x⁵ + 2E-08x⁴ - 5E-06x³ + 0,0004x² + 0,135x - 17,77", "R² = 0,8165"]}}}
            ]
          }],
          "title": {"text": "9. V8 -Abs", "orient": "bottom", "anchor": "middle", "fontSize": 31, "font": "Lato", "fontWeight": "normal", "color": "#000000", "offset": 4},
          "resolve": {"scale": {"color": "independent", "shape": "independent"}}
        },
        {
          "vconcat": [{
            "width": 439, "height": 258, "title": "V9 Abs",
            "layer": [
              {"data": {"name": "d9"}, "transform": [{"filter": "datum.k != 's'"}], "mark": {"type": "line", "strokeWidth": 4, "interpolate": "monotone", "clip": true},
               "encoding": {
                 "x": {"field": "x", "type": "quantitative", "scale": {"domain": [180, 720], "nice": false, "zero": false}, "axis": {"values": [180, 280, 380, 480, 580, 680], "title": "(nm)", "titleX": 417, "titleY": 28, "offset": -37}},
                 "y": {"field": "y", "type": "quantitative", "scale": {"domain": [-0.5, 3], "nice": false}, "axis": {"values": [-0.5, 0, 0.5, 1, 1.5, 2, 2.5, 3], "tickCount": 12, "title": "(u.a.)", "labelOverlap": false, "labelExpr": "replace(toString(datum.value), '.', ',')"}},
                 "detail": {"field": "k"},
                 "color": {"datum": "V9 Abs", "scale": {"domain": ["V9 Abs", "Poly. (V9 Abs)"], "range": ["#D2601A", "#E597AE"]}, "legend": {"title": null, "encode": {"symbols": {"update": {"stroke": {"signal": "datum.index == 0 ? '#D2601A' : '#E597AE'"}, "size": {"signal": "datum.index == 0 ? 14 : 260"}}}}}}
               }},
              {"data": {"name": "d9"}, "mark": {"type": "point", "filled": true, "size": 12, "opacity": 1, "clip": true},
               "encoding": {"x": {"field": "x", "type": "quantitative"}, "y": {"field": "y", "type": "quantitative"}, "color": {"datum": "V9 Abs"}, "shape": {"datum": "V9 Abs", "scale": {"domain": ["V9 Abs", "Poly. (V9 Abs)"], "range": ["circle", "stroke"]}, "legend": {"title": null}}}},
              {"data": {"name": "f9"}, "mark": {"type": "line", "strokeWidth": 1.1, "interpolate": "natural", "clip": true},
               "encoding": {"x": {"field": "x", "type": "quantitative"}, "y": {"field": "y", "type": "quantitative"}, "color": {"datum": "Poly. (V9 Abs)"}}},
              {"data": {"values": [{}]}, "mark": {"type": "text", "style": "eq"},
               "encoding": {"x": {"datum": 486}, "y": {"datum": 2.33}, "text": {"value": ["y = 2E-14x⁶ - 4E-11x⁵ + 3E-08x⁴ - 1E-05x³ + 0,0033x² - 0,3389x + 11,929", "R² = 0,7049"]}}}
            ]
          }],
          "title": {"text": "10. V9 - Abs", "orient": "bottom", "anchor": "middle", "fontSize": 31, "font": "Lato", "fontWeight": "normal", "color": "#000000", "offset": 4},
          "resolve": {"scale": {"color": "independent", "shape": "independent"}}
        },
        {
          "vconcat": [{
            "width": 441, "height": 246, "title": "V10 Abs",
            "layer": [
              {"data": {"name": "d10"}, "transform": [{"filter": "datum.k != 's'"}], "mark": {"type": "line", "strokeWidth": 4, "interpolate": "monotone", "clip": true},
               "encoding": {
                 "x": {"field": "x", "type": "quantitative", "scale": {"domain": [180, 720], "nice": false, "zero": false}, "axis": {"values": [180, 280, 380, 480, 580, 680], "title": "(nm)", "titleX": 428, "titleY": 27}},
                 "y": {"field": "y", "type": "quantitative", "scale": {"domain": [0, 3], "nice": false}, "axis": {"values": [0, 0.5, 1, 1.5, 2, 2.5, 3], "tickCount": 12, "title": "(u.a.)", "labelOverlap": false, "labelExpr": "replace(toString(datum.value), '.', ',')"}},
                 "detail": {"field": "k"},
                 "color": {"datum": "V10 Abs", "scale": {"domain": ["V10 Abs", "Poly. (V10 Abs)"], "range": ["#C09010", "#E597AE"]}, "legend": {"title": null, "offset": -10, "encode": {"symbols": {"update": {"stroke": {"signal": "datum.index == 0 ? '#C09010' : '#E597AE'"}, "size": {"signal": "datum.index == 0 ? 14 : 260"}}}}}}
               }},
              {"data": {"name": "d10"}, "mark": {"type": "point", "filled": true, "size": 12, "opacity": 1, "clip": true},
               "encoding": {"x": {"field": "x", "type": "quantitative"}, "y": {"field": "y", "type": "quantitative"}, "color": {"datum": "V10 Abs"}, "shape": {"datum": "V10 Abs", "scale": {"domain": ["V10 Abs", "Poly. (V10 Abs)"], "range": ["circle", "stroke"]}, "legend": {"title": null, "offset": -10}}}},
              {"data": {"name": "f10"}, "mark": {"type": "line", "strokeWidth": 1.1, "interpolate": "natural", "clip": true},
               "encoding": {"x": {"field": "x", "type": "quantitative"}, "y": {"field": "y", "type": "quantitative"}, "color": {"datum": "Poly. (V10 Abs)"}}},
              {"data": {"values": [{}]}, "mark": {"type": "text", "style": "eq"},
               "encoding": {"x": {"datum": 493}, "y": {"datum": 2.47}, "text": {"value": ["y = -4E-15x⁶ + 1E-11x⁵ - 2E-08x⁴ + 1E-05x³ - 0,0038x² + 0,6826x - 46,131", "R² = 0,9083"]}}}
            ]
          }],
          "title": {"text": "11. V10 - Abs", "orient": "bottom", "anchor": "middle", "fontSize": 31, "font": "Lato", "fontWeight": "normal", "color": "#000000", "offset": 4},
          "resolve": {"scale": {"color": "independent", "shape": "independent"}}
        },
        {
          "width": 440, "height": 40,
          "data": {"values": []},
          "mark": "point",
          "view": {"fill": "transparent", "stroke": null},
          "title": {"text": ["Variation of Molecular", "Absorption Spectra at", "Experimental Variants", "V0-V10 (UV-Vis Ranges", "190-700nm)"], "orient": "bottom", "anchor": "middle", "fontSize": 33, "font": "Lato", "fontWeight": "bold", "color": "#111111", "lineHeight": 42.5, "offset": -8}
        }
      ],
      "spacing": 16,
      "resolve": {"scale": {"x": "independent", "y": "independent", "color": "independent", "shape": "independent"}, "legend": {"color": "independent", "shape": "independent"}}
    }
  ]
}
